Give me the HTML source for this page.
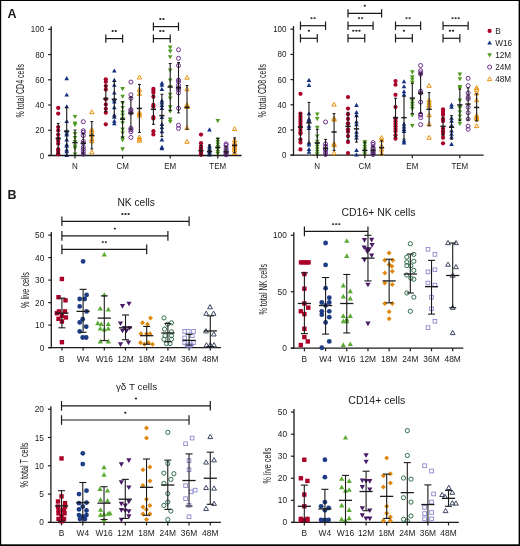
<!DOCTYPE html><html><head><meta charset="utf-8"><style>html,body{margin:0;padding:0;background:#fff;overflow:hidden;width:520px;height:546px;}svg{display:block;will-change:transform;}text{font-family:"Liberation Sans", sans-serif;fill:#1a1a1a;}</style></head><body>
<svg width="520" height="546" viewBox="0 0 520 546">
<rect x="0" y="0" width="520" height="546" fill="#fff"/>
<rect x="0" y="0" width="520" height="1" fill="#000"/>
<rect x="0" y="0" width="1.2" height="546" fill="#000"/>
<rect x="518.6" y="0" width="1.4" height="546" fill="#000"/>
<rect x="0" y="544.3" width="520" height="1.7" fill="#000"/>
<text x="7.5" y="18.2" font-size="12.5" font-weight="bold">A</text>
<text x="7.5" y="199" font-size="12.5" font-weight="bold">B</text>
<line x1="51.2" y1="156.1" x2="51.2" y2="26.3" stroke="#1a1a1a" stroke-width="1.3"/><line x1="48.2" y1="155.5" x2="51.2" y2="155.5" stroke="#1a1a1a" stroke-width="1.2"/><text x="44.2" y="158.5" font-size="8.96" text-anchor="end" textLength="4.45" lengthAdjust="spacingAndGlyphs">0</text><line x1="48.2" y1="130.26" x2="51.2" y2="130.26" stroke="#1a1a1a" stroke-width="1.2"/><text x="44.2" y="133.26" font-size="8.96" text-anchor="end" textLength="8.9" lengthAdjust="spacingAndGlyphs">20</text><line x1="48.2" y1="105.02" x2="51.2" y2="105.02" stroke="#1a1a1a" stroke-width="1.2"/><text x="44.2" y="108.02" font-size="8.96" text-anchor="end" textLength="8.9" lengthAdjust="spacingAndGlyphs">40</text><line x1="48.2" y1="79.78" x2="51.2" y2="79.78" stroke="#1a1a1a" stroke-width="1.2"/><text x="44.2" y="82.78" font-size="8.96" text-anchor="end" textLength="8.9" lengthAdjust="spacingAndGlyphs">60</text><line x1="48.2" y1="54.54" x2="51.2" y2="54.54" stroke="#1a1a1a" stroke-width="1.2"/><text x="44.2" y="57.54" font-size="8.96" text-anchor="end" textLength="8.9" lengthAdjust="spacingAndGlyphs">80</text><line x1="48.2" y1="29.3" x2="51.2" y2="29.3" stroke="#1a1a1a" stroke-width="1.2"/><text x="44.2" y="32.3" font-size="8.96" text-anchor="end" textLength="13.35" lengthAdjust="spacingAndGlyphs">100</text><line x1="48.2" y1="155.5" x2="241.6" y2="155.5" stroke="#1a1a1a" stroke-width="1.3"/><line x1="75" y1="155.5" x2="75" y2="158.5" stroke="#1a1a1a" stroke-width="1.2"/><text x="75" y="168.9" font-size="8.96" text-anchor="middle" textLength="5.78" lengthAdjust="spacingAndGlyphs">N</text><line x1="122.6" y1="155.5" x2="122.6" y2="158.5" stroke="#1a1a1a" stroke-width="1.2"/><text x="122.6" y="168.9" font-size="8.96" text-anchor="middle" textLength="12.44" lengthAdjust="spacingAndGlyphs">CM</text><line x1="170.2" y1="155.5" x2="170.2" y2="158.5" stroke="#1a1a1a" stroke-width="1.2"/><text x="170.2" y="168.9" font-size="8.96" text-anchor="middle" textLength="12" lengthAdjust="spacingAndGlyphs">EM</text><line x1="217.8" y1="155.5" x2="217.8" y2="158.5" stroke="#1a1a1a" stroke-width="1.2"/><text x="217.8" y="168.9" font-size="8.96" text-anchor="middle" textLength="16.89" lengthAdjust="spacingAndGlyphs">TEM</text><circle cx="58.2" cy="107.92" r="2.1" fill="#ab0029"/><circle cx="58.2" cy="113.6" r="2.1" fill="#ab0029"/><circle cx="58.2" cy="126.98" r="2.1" fill="#ab0029"/><circle cx="58.2" cy="130.39" r="2.1" fill="#ab0029"/><circle cx="58.2" cy="134.55" r="2.1" fill="#ab0029"/><circle cx="58.2" cy="138.46" r="2.1" fill="#ab0029"/><circle cx="58.2" cy="140.86" r="2.1" fill="#ab0029"/><circle cx="58.2" cy="143.64" r="2.1" fill="#ab0029"/><circle cx="58.2" cy="149.19" r="2.1" fill="#ab0029"/><circle cx="58.2" cy="150.96" r="2.1" fill="#ab0029"/><circle cx="58.2" cy="152.98" r="2.1" fill="#ab0029"/><circle cx="58.2" cy="154.36" r="2.1" fill="#ab0029"/><path d="M66.7 76.03L69 80.17L64.4 80.17Z" fill="#12307f"/><path d="M66.7 92.44L69 96.58L64.4 96.58Z" fill="#12307f"/><path d="M66.7 104.18L69 108.32L64.4 108.32Z" fill="#12307f"/><path d="M66.7 118.94L69 123.08L64.4 123.08Z" fill="#12307f"/><path d="M66.7 128.66L69 132.8L64.4 132.8Z" fill="#12307f"/><path d="M66.7 131.06L69 135.2L64.4 135.2Z" fill="#12307f"/><path d="M66.7 132.45L69 136.59L64.4 136.59Z" fill="#12307f"/><path d="M66.7 137.37L69 141.51L64.4 141.51Z" fill="#12307f"/><path d="M66.7 142.16L69 146.3L64.4 146.3Z" fill="#12307f"/><path d="M66.7 143.55L69 147.69L64.4 147.69Z" fill="#12307f"/><path d="M66.7 147.46L69 151.6L64.4 151.6Z" fill="#12307f"/><path d="M66.7 149.23L69 153.37L64.4 153.37Z" fill="#12307f"/><path d="M66.7 152.76L69 156.9L64.4 156.9Z" fill="#12307f"/><path d="M75 119.11L77.3 114.97L72.7 114.97Z" fill="#4f9a1e"/><path d="M75 125.55L77.3 121.41L72.7 121.41Z" fill="#4f9a1e"/><path d="M75 127.06L77.3 122.92L72.7 122.92Z" fill="#4f9a1e"/><path d="M75 136.03L77.3 131.89L72.7 131.89Z" fill="#4f9a1e"/><path d="M75 140.19L77.3 136.05L72.7 136.05Z" fill="#4f9a1e"/><path d="M75 144.1L77.3 139.96L72.7 139.96Z" fill="#4f9a1e"/><path d="M75 148.65L77.3 144.51L72.7 144.51Z" fill="#4f9a1e"/><path d="M75 150.66L77.3 146.52L72.7 146.52Z" fill="#4f9a1e"/><path d="M75 156.6L77.3 152.46L72.7 152.46Z" fill="#4f9a1e"/><circle cx="83.3" cy="121.68" r="2" fill="none" stroke="#6b2d8c" stroke-width="1"/><circle cx="83.3" cy="130.76" r="2" fill="none" stroke="#6b2d8c" stroke-width="1"/><circle cx="83.3" cy="132.28" r="2" fill="none" stroke="#6b2d8c" stroke-width="1"/><circle cx="83.3" cy="135.56" r="2" fill="none" stroke="#6b2d8c" stroke-width="1"/><circle cx="83.3" cy="141.37" r="2" fill="none" stroke="#6b2d8c" stroke-width="1"/><circle cx="83.3" cy="143.26" r="2" fill="none" stroke="#6b2d8c" stroke-width="1"/><circle cx="83.3" cy="147.3" r="2" fill="none" stroke="#6b2d8c" stroke-width="1"/><circle cx="83.3" cy="149.44" r="2" fill="none" stroke="#6b2d8c" stroke-width="1"/><circle cx="83.3" cy="151.71" r="2" fill="none" stroke="#6b2d8c" stroke-width="1"/><circle cx="83.3" cy="154.24" r="2" fill="none" stroke="#6b2d8c" stroke-width="1"/><path d="M91.8 109.77L94 113.63L89.6 113.63Z" fill="none" stroke="#e8920e" stroke-width="1" stroke-linejoin="miter"/><path d="M91.8 127.44L94 131.3L89.6 131.3Z" fill="none" stroke="#e8920e" stroke-width="1" stroke-linejoin="miter"/><path d="M91.8 129.71L94 133.57L89.6 133.57Z" fill="none" stroke="#e8920e" stroke-width="1" stroke-linejoin="miter"/><path d="M91.8 132.99L94 136.85L89.6 136.85Z" fill="none" stroke="#e8920e" stroke-width="1" stroke-linejoin="miter"/><path d="M91.8 136.78L94 140.64L89.6 140.64Z" fill="none" stroke="#e8920e" stroke-width="1" stroke-linejoin="miter"/><path d="M91.8 138.92L94 142.78L89.6 142.78Z" fill="none" stroke="#e8920e" stroke-width="1" stroke-linejoin="miter"/><path d="M91.8 149.9L94 153.76L89.6 153.76Z" fill="none" stroke="#e8920e" stroke-width="1" stroke-linejoin="miter"/><circle cx="105.8" cy="79.28" r="2.1" fill="#ab0029"/><circle cx="105.8" cy="81.8" r="2.1" fill="#ab0029"/><circle cx="105.8" cy="86.09" r="2.1" fill="#ab0029"/><circle cx="105.8" cy="89.62" r="2.1" fill="#ab0029"/><circle cx="105.8" cy="99.21" r="2.1" fill="#ab0029"/><circle cx="105.8" cy="104.39" r="2.1" fill="#ab0029"/><circle cx="105.8" cy="108.81" r="2.1" fill="#ab0029"/><circle cx="105.8" cy="112.72" r="2.1" fill="#ab0029"/><circle cx="105.8" cy="124.33" r="2.1" fill="#ab0029"/><path d="M114.3 68.46L116.6 72.6L112 72.6Z" fill="#12307f"/><path d="M114.3 77.8L116.6 81.94L112 81.94Z" fill="#12307f"/><path d="M114.3 82.72L116.6 86.86L112 86.86Z" fill="#12307f"/><path d="M114.3 90.42L116.6 94.56L112 94.56Z" fill="#12307f"/><path d="M114.3 97.36L116.6 101.5L112 101.5Z" fill="#12307f"/><path d="M114.3 99.38L116.6 103.52L112 103.52Z" fill="#12307f"/><path d="M114.3 105.06L116.6 109.2L112 109.2Z" fill="#12307f"/><path d="M114.3 112.63L116.6 116.77L112 116.77Z" fill="#12307f"/><path d="M114.3 114.65L116.6 118.79L112 118.79Z" fill="#12307f"/><path d="M114.3 118.69L116.6 122.83L112 122.83Z" fill="#12307f"/><path d="M114.3 121.21L116.6 125.35L112 125.35Z" fill="#12307f"/><path d="M122.6 91.22L124.9 87.08L120.3 87.08Z" fill="#4f9a1e"/><path d="M122.6 98.8L124.9 94.66L120.3 94.66Z" fill="#4f9a1e"/><path d="M122.6 105.61L124.9 101.47L120.3 101.47Z" fill="#4f9a1e"/><path d="M122.6 110.03L124.9 105.89L120.3 105.89Z" fill="#4f9a1e"/><path d="M122.6 114.57L124.9 110.43L120.3 110.43Z" fill="#4f9a1e"/><path d="M122.6 117.6L124.9 113.46L120.3 113.46Z" fill="#4f9a1e"/><path d="M122.6 121.13L124.9 116.99L120.3 116.99Z" fill="#4f9a1e"/><path d="M122.6 125.17L124.9 121.03L120.3 121.03Z" fill="#4f9a1e"/><path d="M122.6 131.73L124.9 127.59L120.3 127.59Z" fill="#4f9a1e"/><path d="M122.6 135.27L124.9 131.13L120.3 131.13Z" fill="#4f9a1e"/><path d="M122.6 140.32L124.9 136.18L120.3 136.18Z" fill="#4f9a1e"/><path d="M122.6 142.34L124.9 138.2L120.3 138.2Z" fill="#4f9a1e"/><path d="M122.6 151.42L124.9 147.28L120.3 147.28Z" fill="#4f9a1e"/><circle cx="130.9" cy="82.05" r="2" fill="none" stroke="#6b2d8c" stroke-width="1"/><circle cx="130.9" cy="94.8" r="2" fill="none" stroke="#6b2d8c" stroke-width="1"/><circle cx="130.9" cy="98.33" r="2" fill="none" stroke="#6b2d8c" stroke-width="1"/><circle cx="130.9" cy="109.56" r="2" fill="none" stroke="#6b2d8c" stroke-width="1"/><circle cx="130.9" cy="111.08" r="2" fill="none" stroke="#6b2d8c" stroke-width="1"/><circle cx="130.9" cy="113.1" r="2" fill="none" stroke="#6b2d8c" stroke-width="1"/><circle cx="130.9" cy="128.24" r="2" fill="none" stroke="#6b2d8c" stroke-width="1"/><circle cx="130.9" cy="129.76" r="2" fill="none" stroke="#6b2d8c" stroke-width="1"/><circle cx="130.9" cy="131.77" r="2" fill="none" stroke="#6b2d8c" stroke-width="1"/><circle cx="130.9" cy="137.45" r="2" fill="none" stroke="#6b2d8c" stroke-width="1"/><path d="M139.4 75.07L141.6 78.93L137.2 78.93Z" fill="none" stroke="#e8920e" stroke-width="1" stroke-linejoin="miter"/><path d="M139.4 87.43L141.6 91.29L137.2 91.29Z" fill="none" stroke="#e8920e" stroke-width="1" stroke-linejoin="miter"/><path d="M139.4 91.47L141.6 95.33L137.2 95.33Z" fill="none" stroke="#e8920e" stroke-width="1" stroke-linejoin="miter"/><path d="M139.4 110.28L141.6 114.14L137.2 114.14Z" fill="none" stroke="#e8920e" stroke-width="1" stroke-linejoin="miter"/><path d="M139.4 111.79L141.6 115.65L137.2 115.65Z" fill="none" stroke="#e8920e" stroke-width="1" stroke-linejoin="miter"/><path d="M139.4 113.3L141.6 117.16L137.2 117.16Z" fill="none" stroke="#e8920e" stroke-width="1" stroke-linejoin="miter"/><path d="M139.4 135.01L141.6 138.87L137.2 138.87Z" fill="none" stroke="#e8920e" stroke-width="1" stroke-linejoin="miter"/><path d="M139.4 137.03L141.6 140.89L137.2 140.89Z" fill="none" stroke="#e8920e" stroke-width="1" stroke-linejoin="miter"/><path d="M139.4 138.42L141.6 142.28L137.2 142.28Z" fill="none" stroke="#e8920e" stroke-width="1" stroke-linejoin="miter"/><circle cx="153.4" cy="88.74" r="2.1" fill="#ab0029"/><circle cx="153.4" cy="90.76" r="2.1" fill="#ab0029"/><circle cx="153.4" cy="92.78" r="2.1" fill="#ab0029"/><circle cx="153.4" cy="96.82" r="2.1" fill="#ab0029"/><circle cx="153.4" cy="104.89" r="2.1" fill="#ab0029"/><circle cx="153.4" cy="106.41" r="2.1" fill="#ab0029"/><circle cx="153.4" cy="117.01" r="2.1" fill="#ab0029"/><circle cx="153.4" cy="118.52" r="2.1" fill="#ab0029"/><circle cx="153.4" cy="131.14" r="2.1" fill="#ab0029"/><circle cx="153.4" cy="134.42" r="2.1" fill="#ab0029"/><path d="M161.9 80.7L164.2 84.84L159.6 84.84Z" fill="#12307f"/><path d="M161.9 82.72L164.2 86.86L159.6 86.86Z" fill="#12307f"/><path d="M161.9 86.76L164.2 90.9L159.6 90.9Z" fill="#12307f"/><path d="M161.9 98.25L164.2 102.39L159.6 102.39Z" fill="#12307f"/><path d="M161.9 100.39L164.2 104.53L159.6 104.53Z" fill="#12307f"/><path d="M161.9 102.91L164.2 107.05L159.6 107.05Z" fill="#12307f"/><path d="M161.9 105.82L164.2 109.96L159.6 109.96Z" fill="#12307f"/><path d="M161.9 114.9L164.2 119.04L159.6 119.04Z" fill="#12307f"/><path d="M161.9 121.84L164.2 125.98L159.6 125.98Z" fill="#12307f"/><path d="M161.9 125L164.2 129.14L159.6 129.14Z" fill="#12307f"/><path d="M161.9 129.16L164.2 133.3L159.6 133.3Z" fill="#12307f"/><path d="M161.9 137.37L164.2 141.51L159.6 141.51Z" fill="#12307f"/><path d="M161.9 144.81L164.2 148.95L159.6 148.95Z" fill="#12307f"/><path d="M161.9 146.07L164.2 150.22L159.6 150.22Z" fill="#12307f"/><path d="M170.2 49.7L172.5 45.56L167.9 45.56Z" fill="#4f9a1e"/><path d="M170.2 53.74L172.5 49.6L167.9 49.6Z" fill="#4f9a1e"/><path d="M170.2 59.3L172.5 55.16L167.9 55.16Z" fill="#4f9a1e"/><path d="M170.2 72.55L172.5 68.41L167.9 68.41Z" fill="#4f9a1e"/><path d="M170.2 82.64L172.5 78.5L167.9 78.5Z" fill="#4f9a1e"/><path d="M170.2 89.2L172.5 85.06L167.9 85.06Z" fill="#4f9a1e"/><path d="M170.2 96.78L172.5 92.64L167.9 92.64Z" fill="#4f9a1e"/><path d="M170.2 100.69L172.5 96.55L167.9 96.55Z" fill="#4f9a1e"/><path d="M170.2 109.4L172.5 105.26L167.9 105.26Z" fill="#4f9a1e"/><path d="M170.2 113.81L172.5 109.67L167.9 109.67Z" fill="#4f9a1e"/><path d="M170.2 121.76L172.5 117.62L167.9 117.62Z" fill="#4f9a1e"/><path d="M170.2 124.04L172.5 119.9L167.9 119.9Z" fill="#4f9a1e"/><circle cx="178.5" cy="49.74" r="2" fill="none" stroke="#6b2d8c" stroke-width="1"/><circle cx="178.5" cy="58.33" r="2" fill="none" stroke="#6b2d8c" stroke-width="1"/><circle cx="178.5" cy="65.52" r="2" fill="none" stroke="#6b2d8c" stroke-width="1"/><circle cx="178.5" cy="80.16" r="2" fill="none" stroke="#6b2d8c" stroke-width="1"/><circle cx="178.5" cy="81.67" r="2" fill="none" stroke="#6b2d8c" stroke-width="1"/><circle cx="178.5" cy="85.21" r="2" fill="none" stroke="#6b2d8c" stroke-width="1"/><circle cx="178.5" cy="87.73" r="2" fill="none" stroke="#6b2d8c" stroke-width="1"/><circle cx="178.5" cy="89.75" r="2" fill="none" stroke="#6b2d8c" stroke-width="1"/><circle cx="178.5" cy="92.78" r="2" fill="none" stroke="#6b2d8c" stroke-width="1"/><circle cx="178.5" cy="108.3" r="2" fill="none" stroke="#6b2d8c" stroke-width="1"/><circle cx="178.5" cy="125.21" r="2" fill="none" stroke="#6b2d8c" stroke-width="1"/><circle cx="178.5" cy="128.37" r="2" fill="none" stroke="#6b2d8c" stroke-width="1"/><path d="M187 75.32L189.2 79.18L184.8 79.18Z" fill="none" stroke="#e8920e" stroke-width="1" stroke-linejoin="miter"/><path d="M187 86.93L189.2 90.79L184.8 90.79Z" fill="none" stroke="#e8920e" stroke-width="1" stroke-linejoin="miter"/><path d="M187 102.58L189.2 106.44L184.8 106.44Z" fill="none" stroke="#e8920e" stroke-width="1" stroke-linejoin="miter"/><path d="M187 104.6L189.2 108.46L184.8 108.46Z" fill="none" stroke="#e8920e" stroke-width="1" stroke-linejoin="miter"/><path d="M187 125.67L189.2 129.53L184.8 129.53Z" fill="none" stroke="#e8920e" stroke-width="1" stroke-linejoin="miter"/><path d="M187 139.43L189.2 143.29L184.8 143.29Z" fill="none" stroke="#e8920e" stroke-width="1" stroke-linejoin="miter"/><circle cx="201" cy="134.55" r="2.1" fill="#ab0029"/><circle cx="201" cy="143.13" r="2.1" fill="#ab0029"/><circle cx="201" cy="146.67" r="2.1" fill="#ab0029"/><circle cx="201" cy="148.56" r="2.1" fill="#ab0029"/><circle cx="201" cy="150.45" r="2.1" fill="#ab0029"/><circle cx="201" cy="151.71" r="2.1" fill="#ab0029"/><circle cx="201" cy="152.98" r="2.1" fill="#ab0029"/><circle cx="201" cy="154.24" r="2.1" fill="#ab0029"/><circle cx="201" cy="154.87" r="2.1" fill="#ab0029"/><path d="M209.5 127.27L211.8 131.41L207.2 131.41Z" fill="#12307f"/><path d="M209.5 143.55L211.8 147.69L207.2 147.69Z" fill="#12307f"/><path d="M209.5 145.44L211.8 149.58L207.2 149.58Z" fill="#12307f"/><path d="M209.5 147.34L211.8 151.48L207.2 151.48Z" fill="#12307f"/><path d="M209.5 149.23L211.8 153.37L207.2 153.37Z" fill="#12307f"/><path d="M209.5 150.49L211.8 154.63L207.2 154.63Z" fill="#12307f"/><path d="M209.5 151.75L211.8 155.89L207.2 155.89Z" fill="#12307f"/><path d="M209.5 152.38L211.8 156.53L207.2 156.53Z" fill="#12307f"/><path d="M217.8 123.15L220.1 119.01L215.5 119.01Z" fill="#4f9a1e"/><path d="M217.8 141.58L220.1 137.44L215.5 137.44Z" fill="#4f9a1e"/><path d="M217.8 144.1L220.1 139.96L215.5 139.96Z" fill="#4f9a1e"/><path d="M217.8 146.63L220.1 142.49L215.5 142.49Z" fill="#4f9a1e"/><path d="M217.8 149.15L220.1 145.01L215.5 145.01Z" fill="#4f9a1e"/><path d="M217.8 151.67L220.1 147.53L215.5 147.53Z" fill="#4f9a1e"/><path d="M217.8 154.2L220.1 150.06L215.5 150.06Z" fill="#4f9a1e"/><path d="M217.8 156.09L220.1 151.95L215.5 151.95Z" fill="#4f9a1e"/><circle cx="226.1" cy="143.89" r="2" fill="none" stroke="#6b2d8c" stroke-width="1"/><circle cx="226.1" cy="145.4" r="2" fill="none" stroke="#6b2d8c" stroke-width="1"/><circle cx="226.1" cy="147.93" r="2" fill="none" stroke="#6b2d8c" stroke-width="1"/><circle cx="226.1" cy="149.82" r="2" fill="none" stroke="#6b2d8c" stroke-width="1"/><circle cx="226.1" cy="151.71" r="2" fill="none" stroke="#6b2d8c" stroke-width="1"/><circle cx="226.1" cy="152.98" r="2" fill="none" stroke="#6b2d8c" stroke-width="1"/><circle cx="226.1" cy="154.24" r="2" fill="none" stroke="#6b2d8c" stroke-width="1"/><circle cx="226.1" cy="154.87" r="2" fill="none" stroke="#6b2d8c" stroke-width="1"/><path d="M234.6 126.68L236.8 130.54L232.4 130.54Z" fill="none" stroke="#e8920e" stroke-width="1" stroke-linejoin="miter"/><path d="M234.6 138.04L236.8 141.9L232.4 141.9Z" fill="none" stroke="#e8920e" stroke-width="1" stroke-linejoin="miter"/><path d="M234.6 140.56L236.8 144.42L232.4 144.42Z" fill="none" stroke="#e8920e" stroke-width="1" stroke-linejoin="miter"/><path d="M234.6 142.46L236.8 146.32L232.4 146.32Z" fill="none" stroke="#e8920e" stroke-width="1" stroke-linejoin="miter"/><path d="M234.6 144.35L236.8 148.21L232.4 148.21Z" fill="none" stroke="#e8920e" stroke-width="1" stroke-linejoin="miter"/><path d="M234.6 146.24L236.8 150.1L232.4 150.1Z" fill="none" stroke="#e8920e" stroke-width="1" stroke-linejoin="miter"/><path d="M234.6 148.14L236.8 152L232.4 152Z" fill="none" stroke="#e8920e" stroke-width="1" stroke-linejoin="miter"/><path d="M234.6 150.66L236.8 154.52L232.4 154.52Z" fill="none" stroke="#e8920e" stroke-width="1" stroke-linejoin="miter"/><line x1="58.2" y1="123.45" x2="58.2" y2="153.61" stroke="#1a1a1a" stroke-width="1.1"/><line x1="56.8" y1="123.45" x2="59.6" y2="123.45" stroke="#1a1a1a" stroke-width="1.1"/><line x1="56.8" y1="153.61" x2="59.6" y2="153.61" stroke="#1a1a1a" stroke-width="1.1"/><line x1="55.6" y1="138.46" x2="60.8" y2="138.46" stroke="#1a1a1a" stroke-width="1.5"/><line x1="66.7" y1="107.54" x2="66.7" y2="155.5" stroke="#1a1a1a" stroke-width="1.1"/><line x1="65.3" y1="107.54" x2="68.1" y2="107.54" stroke="#1a1a1a" stroke-width="1.1"/><line x1="65.3" y1="155.5" x2="68.1" y2="155.5" stroke="#1a1a1a" stroke-width="1.1"/><line x1="64.1" y1="131.14" x2="69.3" y2="131.14" stroke="#1a1a1a" stroke-width="1.5"/><line x1="75" y1="130.13" x2="75" y2="155.5" stroke="#1a1a1a" stroke-width="1.1"/><line x1="73.6" y1="130.13" x2="76.4" y2="130.13" stroke="#1a1a1a" stroke-width="1.1"/><line x1="73.6" y1="155.5" x2="76.4" y2="155.5" stroke="#1a1a1a" stroke-width="1.1"/><line x1="72.4" y1="142.63" x2="77.6" y2="142.63" stroke="#1a1a1a" stroke-width="1.5"/><line x1="83.3" y1="133.41" x2="83.3" y2="154.24" stroke="#1a1a1a" stroke-width="1.1"/><line x1="81.9" y1="133.41" x2="84.7" y2="133.41" stroke="#1a1a1a" stroke-width="1.1"/><line x1="81.9" y1="154.24" x2="84.7" y2="154.24" stroke="#1a1a1a" stroke-width="1.1"/><line x1="80.7" y1="143.26" x2="85.9" y2="143.26" stroke="#1a1a1a" stroke-width="1.5"/><line x1="91.8" y1="121.55" x2="91.8" y2="148.94" stroke="#1a1a1a" stroke-width="1.1"/><line x1="90.4" y1="121.55" x2="93.2" y2="121.55" stroke="#1a1a1a" stroke-width="1.1"/><line x1="90.4" y1="148.94" x2="93.2" y2="148.94" stroke="#1a1a1a" stroke-width="1.1"/><line x1="89.2" y1="135.43" x2="94.4" y2="135.43" stroke="#1a1a1a" stroke-width="1.5"/><line x1="105.8" y1="85.21" x2="105.8" y2="111.58" stroke="#1a1a1a" stroke-width="1.1"/><line x1="104.4" y1="85.21" x2="107.2" y2="85.21" stroke="#1a1a1a" stroke-width="1.1"/><line x1="104.4" y1="111.58" x2="107.2" y2="111.58" stroke="#1a1a1a" stroke-width="1.1"/><line x1="103.2" y1="98.58" x2="108.4" y2="98.58" stroke="#1a1a1a" stroke-width="1.5"/><line x1="114.3" y1="81.42" x2="114.3" y2="117.26" stroke="#1a1a1a" stroke-width="1.1"/><line x1="112.9" y1="81.42" x2="115.7" y2="81.42" stroke="#1a1a1a" stroke-width="1.1"/><line x1="112.9" y1="117.26" x2="115.7" y2="117.26" stroke="#1a1a1a" stroke-width="1.1"/><line x1="111.7" y1="99.34" x2="116.9" y2="99.34" stroke="#1a1a1a" stroke-width="1.5"/><line x1="122.6" y1="101.61" x2="122.6" y2="137.33" stroke="#1a1a1a" stroke-width="1.1"/><line x1="121.2" y1="101.61" x2="124" y2="101.61" stroke="#1a1a1a" stroke-width="1.1"/><line x1="121.2" y1="137.33" x2="124" y2="137.33" stroke="#1a1a1a" stroke-width="1.1"/><line x1="120" y1="119.15" x2="125.2" y2="119.15" stroke="#1a1a1a" stroke-width="1.5"/><line x1="130.9" y1="97.32" x2="130.9" y2="129.12" stroke="#1a1a1a" stroke-width="1.1"/><line x1="129.5" y1="97.32" x2="132.3" y2="97.32" stroke="#1a1a1a" stroke-width="1.1"/><line x1="129.5" y1="129.12" x2="132.3" y2="129.12" stroke="#1a1a1a" stroke-width="1.1"/><line x1="128.3" y1="113.22" x2="133.5" y2="113.22" stroke="#1a1a1a" stroke-width="1.5"/><line x1="139.4" y1="84.45" x2="139.4" y2="132.41" stroke="#1a1a1a" stroke-width="1.1"/><line x1="138" y1="84.45" x2="140.8" y2="84.45" stroke="#1a1a1a" stroke-width="1.1"/><line x1="138" y1="132.41" x2="140.8" y2="132.41" stroke="#1a1a1a" stroke-width="1.1"/><line x1="136.8" y1="108.43" x2="142" y2="108.43" stroke="#1a1a1a" stroke-width="1.5"/><line x1="153.4" y1="95.3" x2="153.4" y2="124.33" stroke="#1a1a1a" stroke-width="1.1"/><line x1="152" y1="95.3" x2="154.8" y2="95.3" stroke="#1a1a1a" stroke-width="1.1"/><line x1="152" y1="124.33" x2="154.8" y2="124.33" stroke="#1a1a1a" stroke-width="1.1"/><line x1="150.8" y1="109.31" x2="156" y2="109.31" stroke="#1a1a1a" stroke-width="1.5"/><line x1="161.9" y1="94.29" x2="161.9" y2="136.44" stroke="#1a1a1a" stroke-width="1.1"/><line x1="160.5" y1="94.29" x2="163.3" y2="94.29" stroke="#1a1a1a" stroke-width="1.1"/><line x1="160.5" y1="136.44" x2="163.3" y2="136.44" stroke="#1a1a1a" stroke-width="1.1"/><line x1="159.3" y1="115.62" x2="164.5" y2="115.62" stroke="#1a1a1a" stroke-width="1.5"/><line x1="170.2" y1="63.5" x2="170.2" y2="110.45" stroke="#1a1a1a" stroke-width="1.1"/><line x1="168.8" y1="63.5" x2="171.6" y2="63.5" stroke="#1a1a1a" stroke-width="1.1"/><line x1="168.8" y1="110.45" x2="171.6" y2="110.45" stroke="#1a1a1a" stroke-width="1.1"/><line x1="167.6" y1="86.97" x2="172.8" y2="86.97" stroke="#1a1a1a" stroke-width="1.5"/><line x1="178.5" y1="62.49" x2="178.5" y2="112.84" stroke="#1a1a1a" stroke-width="1.1"/><line x1="177.1" y1="62.49" x2="179.9" y2="62.49" stroke="#1a1a1a" stroke-width="1.1"/><line x1="177.1" y1="112.84" x2="179.9" y2="112.84" stroke="#1a1a1a" stroke-width="1.1"/><line x1="175.9" y1="87.73" x2="181.1" y2="87.73" stroke="#1a1a1a" stroke-width="1.5"/><line x1="187" y1="85.59" x2="187" y2="129.25" stroke="#1a1a1a" stroke-width="1.1"/><line x1="185.6" y1="85.59" x2="188.4" y2="85.59" stroke="#1a1a1a" stroke-width="1.1"/><line x1="185.6" y1="129.25" x2="188.4" y2="129.25" stroke="#1a1a1a" stroke-width="1.1"/><line x1="184.4" y1="107.42" x2="189.6" y2="107.42" stroke="#1a1a1a" stroke-width="1.5"/><line x1="201" y1="145.4" x2="201" y2="155.5" stroke="#1a1a1a" stroke-width="1.1"/><line x1="199.6" y1="145.4" x2="202.4" y2="145.4" stroke="#1a1a1a" stroke-width="1.1"/><line x1="199.6" y1="155.5" x2="202.4" y2="155.5" stroke="#1a1a1a" stroke-width="1.1"/><line x1="198.4" y1="150.58" x2="203.6" y2="150.58" stroke="#1a1a1a" stroke-width="1.5"/><line x1="209.5" y1="144.9" x2="209.5" y2="155.5" stroke="#1a1a1a" stroke-width="1.1"/><line x1="208.1" y1="144.9" x2="210.9" y2="144.9" stroke="#1a1a1a" stroke-width="1.1"/><line x1="208.1" y1="155.5" x2="210.9" y2="155.5" stroke="#1a1a1a" stroke-width="1.1"/><line x1="206.9" y1="151.59" x2="212.1" y2="151.59" stroke="#1a1a1a" stroke-width="1.5"/><line x1="217.8" y1="138.34" x2="217.8" y2="155.5" stroke="#1a1a1a" stroke-width="1.1"/><line x1="216.4" y1="138.34" x2="219.2" y2="138.34" stroke="#1a1a1a" stroke-width="1.1"/><line x1="216.4" y1="155.5" x2="219.2" y2="155.5" stroke="#1a1a1a" stroke-width="1.1"/><line x1="215.2" y1="147.42" x2="220.4" y2="147.42" stroke="#1a1a1a" stroke-width="1.5"/><line x1="226.1" y1="146.67" x2="226.1" y2="155.5" stroke="#1a1a1a" stroke-width="1.1"/><line x1="224.7" y1="146.67" x2="227.5" y2="146.67" stroke="#1a1a1a" stroke-width="1.1"/><line x1="224.7" y1="155.5" x2="227.5" y2="155.5" stroke="#1a1a1a" stroke-width="1.1"/><line x1="223.5" y1="151.84" x2="228.7" y2="151.84" stroke="#1a1a1a" stroke-width="1.5"/><line x1="234.6" y1="137.83" x2="234.6" y2="152.98" stroke="#1a1a1a" stroke-width="1.1"/><line x1="233.2" y1="137.83" x2="236" y2="137.83" stroke="#1a1a1a" stroke-width="1.1"/><line x1="233.2" y1="152.98" x2="236" y2="152.98" stroke="#1a1a1a" stroke-width="1.1"/><line x1="232" y1="145.4" x2="237.2" y2="145.4" stroke="#1a1a1a" stroke-width="1.5"/><text transform="translate(23.6 90.7) rotate(-90)" font-size="10" text-anchor="middle" textLength="53.5" lengthAdjust="spacingAndGlyphs">% total CD4 cells</text><line x1="105.8" y1="38.6" x2="122.6" y2="38.6" stroke="#1a1a1a" stroke-width="1.2"/><line x1="105.8" y1="34.4" x2="105.8" y2="42.8" stroke="#1a1a1a" stroke-width="1.2"/><line x1="122.6" y1="34.4" x2="122.6" y2="42.8" stroke="#1a1a1a" stroke-width="1.2"/><ellipse cx="112.65" cy="31" rx="1.15" ry="0.95" fill="#222"/><ellipse cx="115.75" cy="31" rx="1.15" ry="0.95" fill="#222"/><line x1="153.4" y1="38.6" x2="170.2" y2="38.6" stroke="#1a1a1a" stroke-width="1.2"/><line x1="153.4" y1="34.4" x2="153.4" y2="42.8" stroke="#1a1a1a" stroke-width="1.2"/><line x1="170.2" y1="34.4" x2="170.2" y2="42.8" stroke="#1a1a1a" stroke-width="1.2"/><ellipse cx="160.25" cy="31" rx="1.15" ry="0.95" fill="#222"/><ellipse cx="163.35" cy="31" rx="1.15" ry="0.95" fill="#222"/><line x1="153.4" y1="26.6" x2="178.5" y2="26.6" stroke="#1a1a1a" stroke-width="1.2"/><line x1="153.4" y1="22.4" x2="153.4" y2="30.8" stroke="#1a1a1a" stroke-width="1.2"/><line x1="178.5" y1="22.4" x2="178.5" y2="30.8" stroke="#1a1a1a" stroke-width="1.2"/><ellipse cx="160.35" cy="19" rx="1.15" ry="0.95" fill="#222"/><ellipse cx="163.45" cy="19" rx="1.15" ry="0.95" fill="#222"/>
<line x1="293.5" y1="155.8" x2="293.5" y2="26.2" stroke="#1a1a1a" stroke-width="1.3"/><line x1="290.5" y1="155.2" x2="293.5" y2="155.2" stroke="#1a1a1a" stroke-width="1.2"/><text x="286.5" y="158.2" font-size="8.96" text-anchor="end" textLength="4.45" lengthAdjust="spacingAndGlyphs">0</text><line x1="290.5" y1="130" x2="293.5" y2="130" stroke="#1a1a1a" stroke-width="1.2"/><text x="286.5" y="133" font-size="8.96" text-anchor="end" textLength="8.9" lengthAdjust="spacingAndGlyphs">20</text><line x1="290.5" y1="104.8" x2="293.5" y2="104.8" stroke="#1a1a1a" stroke-width="1.2"/><text x="286.5" y="107.8" font-size="8.96" text-anchor="end" textLength="8.9" lengthAdjust="spacingAndGlyphs">40</text><line x1="290.5" y1="79.6" x2="293.5" y2="79.6" stroke="#1a1a1a" stroke-width="1.2"/><text x="286.5" y="82.6" font-size="8.96" text-anchor="end" textLength="8.9" lengthAdjust="spacingAndGlyphs">60</text><line x1="290.5" y1="54.4" x2="293.5" y2="54.4" stroke="#1a1a1a" stroke-width="1.2"/><text x="286.5" y="57.4" font-size="8.96" text-anchor="end" textLength="8.9" lengthAdjust="spacingAndGlyphs">80</text><line x1="290.5" y1="29.2" x2="293.5" y2="29.2" stroke="#1a1a1a" stroke-width="1.2"/><text x="286.5" y="32.2" font-size="8.96" text-anchor="end" textLength="13.35" lengthAdjust="spacingAndGlyphs">100</text><line x1="290.5" y1="155.2" x2="483.6" y2="155.2" stroke="#1a1a1a" stroke-width="1.3"/><line x1="317.26" y1="155.2" x2="317.26" y2="158.2" stroke="#1a1a1a" stroke-width="1.2"/><text x="317.26" y="168.9" font-size="8.96" text-anchor="middle" textLength="5.78" lengthAdjust="spacingAndGlyphs">N</text><line x1="364.79" y1="155.2" x2="364.79" y2="158.2" stroke="#1a1a1a" stroke-width="1.2"/><text x="364.79" y="168.9" font-size="8.96" text-anchor="middle" textLength="12.44" lengthAdjust="spacingAndGlyphs">CM</text><line x1="412.31" y1="155.2" x2="412.31" y2="158.2" stroke="#1a1a1a" stroke-width="1.2"/><text x="412.31" y="168.9" font-size="8.96" text-anchor="middle" textLength="12" lengthAdjust="spacingAndGlyphs">EM</text><line x1="459.84" y1="155.2" x2="459.84" y2="158.2" stroke="#1a1a1a" stroke-width="1.2"/><text x="459.84" y="168.9" font-size="8.96" text-anchor="middle" textLength="16.89" lengthAdjust="spacingAndGlyphs">TEM</text><circle cx="300.46" cy="93.84" r="2.1" fill="#ab0029"/><circle cx="300.46" cy="113.62" r="2.1" fill="#ab0029"/><circle cx="300.46" cy="116.14" r="2.1" fill="#ab0029"/><circle cx="300.46" cy="118.66" r="2.1" fill="#ab0029"/><circle cx="300.46" cy="121.18" r="2.1" fill="#ab0029"/><circle cx="300.46" cy="123.7" r="2.1" fill="#ab0029"/><circle cx="300.46" cy="126.22" r="2.1" fill="#ab0029"/><circle cx="300.46" cy="127.48" r="2.1" fill="#ab0029"/><circle cx="300.46" cy="130" r="2.1" fill="#ab0029"/><circle cx="300.46" cy="132.52" r="2.1" fill="#ab0029"/><circle cx="300.46" cy="133.78" r="2.1" fill="#ab0029"/><circle cx="300.46" cy="139.45" r="2.1" fill="#ab0029"/><circle cx="300.46" cy="142.6" r="2.1" fill="#ab0029"/><circle cx="300.46" cy="149.4" r="2.1" fill="#ab0029"/><path d="M308.96 77.75L311.26 81.89L306.66 81.89Z" fill="#12307f"/><path d="M308.96 82.91L311.26 87.05L306.66 87.05Z" fill="#12307f"/><path d="M308.96 111.14L311.26 115.28L306.66 115.28Z" fill="#12307f"/><path d="M308.96 116.68L311.26 120.82L306.66 120.82Z" fill="#12307f"/><path d="M308.96 118.07L311.26 122.21L306.66 122.21Z" fill="#12307f"/><path d="M308.96 123.61L311.26 127.75L306.66 127.75Z" fill="#12307f"/><path d="M308.96 125.88L311.26 130.02L306.66 130.02Z" fill="#12307f"/><path d="M308.96 140.49L311.26 144.63L306.66 144.63Z" fill="#12307f"/><path d="M308.96 142.38L311.26 146.52L306.66 146.52Z" fill="#12307f"/><path d="M308.96 146.92L311.26 151.06L306.66 151.06Z" fill="#12307f"/><path d="M308.96 149.69L311.26 153.83L306.66 153.83Z" fill="#12307f"/><path d="M317.26 116.61L319.56 112.47L314.96 112.47Z" fill="#4f9a1e"/><path d="M317.26 121.14L319.56 117L314.96 117Z" fill="#4f9a1e"/><path d="M317.26 129.96L319.56 125.82L314.96 125.82Z" fill="#4f9a1e"/><path d="M317.26 138.53L319.56 134.39L314.96 134.39Z" fill="#4f9a1e"/><path d="M317.26 143.82L319.56 139.68L314.96 139.68Z" fill="#4f9a1e"/><path d="M317.26 146.34L319.56 142.2L314.96 142.2Z" fill="#4f9a1e"/><path d="M317.26 148.86L319.56 144.72L314.96 144.72Z" fill="#4f9a1e"/><path d="M317.26 151.38L319.56 147.24L314.96 147.24Z" fill="#4f9a1e"/><path d="M317.26 153.9L319.56 149.76L314.96 149.76Z" fill="#4f9a1e"/><path d="M317.26 156.42L319.56 152.28L314.96 152.28Z" fill="#4f9a1e"/><circle cx="325.56" cy="121.94" r="2" fill="none" stroke="#6b2d8c" stroke-width="1"/><circle cx="325.56" cy="143.86" r="2" fill="none" stroke="#6b2d8c" stroke-width="1"/><circle cx="325.56" cy="146.38" r="2" fill="none" stroke="#6b2d8c" stroke-width="1"/><circle cx="325.56" cy="148.9" r="2" fill="none" stroke="#6b2d8c" stroke-width="1"/><circle cx="325.56" cy="150.16" r="2" fill="none" stroke="#6b2d8c" stroke-width="1"/><circle cx="325.56" cy="152.68" r="2" fill="none" stroke="#6b2d8c" stroke-width="1"/><circle cx="325.56" cy="154.57" r="2" fill="none" stroke="#6b2d8c" stroke-width="1"/><path d="M334.06 102.23L336.26 106.09L331.86 106.09Z" fill="none" stroke="#e8920e" stroke-width="1" stroke-linejoin="miter"/><path d="M334.06 116.34L336.26 120.2L331.86 120.2Z" fill="none" stroke="#e8920e" stroke-width="1" stroke-linejoin="miter"/><path d="M334.06 117.23L336.26 121.09L331.86 121.09Z" fill="none" stroke="#e8920e" stroke-width="1" stroke-linejoin="miter"/><path d="M334.06 141.54L336.26 145.4L331.86 145.4Z" fill="none" stroke="#e8920e" stroke-width="1" stroke-linejoin="miter"/><path d="M334.06 142.93L336.26 146.79L331.86 146.79Z" fill="none" stroke="#e8920e" stroke-width="1" stroke-linejoin="miter"/><path d="M334.06 150.74L336.26 154.6L331.86 154.6Z" fill="none" stroke="#e8920e" stroke-width="1" stroke-linejoin="miter"/><circle cx="347.99" cy="97.11" r="2.1" fill="#ab0029"/><circle cx="347.99" cy="108.58" r="2.1" fill="#ab0029"/><circle cx="347.99" cy="114.25" r="2.1" fill="#ab0029"/><circle cx="347.99" cy="118.91" r="2.1" fill="#ab0029"/><circle cx="347.99" cy="123.32" r="2.1" fill="#ab0029"/><circle cx="347.99" cy="123.83" r="2.1" fill="#ab0029"/><circle cx="347.99" cy="129.37" r="2.1" fill="#ab0029"/><circle cx="347.99" cy="131.64" r="2.1" fill="#ab0029"/><circle cx="347.99" cy="136.05" r="2.1" fill="#ab0029"/><circle cx="347.99" cy="142.1" r="2.1" fill="#ab0029"/><circle cx="347.99" cy="153.06" r="2.1" fill="#ab0029"/><path d="M356.49 102.82L358.79 106.96L354.19 106.96Z" fill="#12307f"/><path d="M356.49 109.88L358.79 114.02L354.19 114.02Z" fill="#12307f"/><path d="M356.49 113.03L358.79 117.17L354.19 117.17Z" fill="#12307f"/><path d="M356.49 119.45L358.79 123.59L354.19 123.59Z" fill="#12307f"/><path d="M356.49 122.22L358.79 126.36L354.19 126.36Z" fill="#12307f"/><path d="M356.49 129.53L358.79 133.67L354.19 133.67Z" fill="#12307f"/><path d="M356.49 132.68L358.79 136.82L354.19 136.82Z" fill="#12307f"/><path d="M356.49 135.45L358.79 139.59L354.19 139.59Z" fill="#12307f"/><path d="M356.49 147.93L358.79 152.07L354.19 152.07Z" fill="#12307f"/><path d="M356.49 152.46L358.79 156.6L354.19 156.6Z" fill="#12307f"/><path d="M364.79 144.2L367.09 140.06L362.49 140.06Z" fill="#4f9a1e"/><path d="M364.79 146.34L367.09 142.2L362.49 142.2Z" fill="#4f9a1e"/><path d="M364.79 148.86L367.09 144.72L362.49 144.72Z" fill="#4f9a1e"/><path d="M364.79 151.38L367.09 147.24L362.49 147.24Z" fill="#4f9a1e"/><path d="M364.79 153.9L367.09 149.76L362.49 149.76Z" fill="#4f9a1e"/><path d="M364.79 156.42L367.09 152.28L362.49 152.28Z" fill="#4f9a1e"/><circle cx="373.09" cy="142.6" r="2" fill="none" stroke="#6b2d8c" stroke-width="1"/><circle cx="373.09" cy="144.36" r="2" fill="none" stroke="#6b2d8c" stroke-width="1"/><circle cx="373.09" cy="147.64" r="2" fill="none" stroke="#6b2d8c" stroke-width="1"/><circle cx="373.09" cy="148.9" r="2" fill="none" stroke="#6b2d8c" stroke-width="1"/><circle cx="373.09" cy="151.42" r="2" fill="none" stroke="#6b2d8c" stroke-width="1"/><circle cx="373.09" cy="152.68" r="2" fill="none" stroke="#6b2d8c" stroke-width="1"/><circle cx="373.09" cy="153.94" r="2" fill="none" stroke="#6b2d8c" stroke-width="1"/><circle cx="373.09" cy="154.57" r="2" fill="none" stroke="#6b2d8c" stroke-width="1"/><path d="M381.59 135.5L383.79 139.36L379.39 139.36Z" fill="none" stroke="#e8920e" stroke-width="1" stroke-linejoin="miter"/><path d="M381.59 138.02L383.79 141.88L379.39 141.88Z" fill="none" stroke="#e8920e" stroke-width="1" stroke-linejoin="miter"/><path d="M381.59 144.06L383.79 147.92L379.39 147.92Z" fill="none" stroke="#e8920e" stroke-width="1" stroke-linejoin="miter"/><path d="M381.59 147.21L383.79 151.07L379.39 151.07Z" fill="none" stroke="#e8920e" stroke-width="1" stroke-linejoin="miter"/><path d="M381.59 150.99L383.79 154.85L379.39 154.85Z" fill="none" stroke="#e8920e" stroke-width="1" stroke-linejoin="miter"/><circle cx="395.51" cy="81.11" r="2.1" fill="#ab0029"/><circle cx="395.51" cy="84.77" r="2.1" fill="#ab0029"/><circle cx="395.51" cy="94.85" r="2.1" fill="#ab0029"/><circle cx="395.51" cy="107.07" r="2.1" fill="#ab0029"/><circle cx="395.51" cy="118.66" r="2.1" fill="#ab0029"/><circle cx="395.51" cy="121.18" r="2.1" fill="#ab0029"/><circle cx="395.51" cy="123.7" r="2.1" fill="#ab0029"/><circle cx="395.51" cy="126.22" r="2.1" fill="#ab0029"/><circle cx="395.51" cy="128.74" r="2.1" fill="#ab0029"/><circle cx="395.51" cy="131.26" r="2.1" fill="#ab0029"/><circle cx="395.51" cy="135.17" r="2.1" fill="#ab0029"/><circle cx="395.51" cy="138.69" r="2.1" fill="#ab0029"/><path d="M404.01 79.13L406.31 83.27L401.71 83.27Z" fill="#12307f"/><path d="M404.01 84.17L406.31 88.31L401.71 88.31Z" fill="#12307f"/><path d="M404.01 89.21L406.31 93.35L401.71 93.35Z" fill="#12307f"/><path d="M404.01 92.36L406.31 96.5L401.71 96.5Z" fill="#12307f"/><path d="M404.01 121.59L406.31 125.73L401.71 125.73Z" fill="#12307f"/><path d="M404.01 124.24L406.31 128.38L401.71 128.38Z" fill="#12307f"/><path d="M404.01 126.76L406.31 130.9L401.71 130.9Z" fill="#12307f"/><path d="M404.01 128.78L406.31 132.92L401.71 132.92Z" fill="#12307f"/><path d="M404.01 138.35L406.31 142.49L401.71 142.49Z" fill="#12307f"/><path d="M404.01 140.37L406.31 144.51L401.71 144.51Z" fill="#12307f"/><path d="M412.31 74.4L414.61 70.26L410.01 70.26Z" fill="#4f9a1e"/><path d="M412.31 79.44L414.61 75.3L410.01 75.3Z" fill="#4f9a1e"/><path d="M412.31 81.83L414.61 77.69L410.01 77.69Z" fill="#4f9a1e"/><path d="M412.31 84.98L414.61 80.84L410.01 80.84Z" fill="#4f9a1e"/><path d="M412.31 103.5L414.61 99.36L410.01 99.36Z" fill="#4f9a1e"/><path d="M412.31 106.02L414.61 101.88L410.01 101.88Z" fill="#4f9a1e"/><path d="M412.31 108.54L414.61 104.4L410.01 104.4Z" fill="#4f9a1e"/><path d="M412.31 111.06L414.61 106.92L410.01 106.92Z" fill="#4f9a1e"/><path d="M412.31 117.62L414.61 113.48L410.01 113.48Z" fill="#4f9a1e"/><path d="M412.31 128.07L414.61 123.93L410.01 123.93Z" fill="#4f9a1e"/><circle cx="420.61" cy="65.49" r="2" fill="none" stroke="#6b2d8c" stroke-width="1"/><circle cx="420.61" cy="70.65" r="2" fill="none" stroke="#6b2d8c" stroke-width="1"/><circle cx="420.61" cy="72.8" r="2" fill="none" stroke="#6b2d8c" stroke-width="1"/><circle cx="420.61" cy="74.18" r="2" fill="none" stroke="#6b2d8c" stroke-width="1"/><circle cx="420.61" cy="91.19" r="2" fill="none" stroke="#6b2d8c" stroke-width="1"/><circle cx="420.61" cy="92.96" r="2" fill="none" stroke="#6b2d8c" stroke-width="1"/><circle cx="420.61" cy="102.15" r="2" fill="none" stroke="#6b2d8c" stroke-width="1"/><circle cx="420.61" cy="114.12" r="2" fill="none" stroke="#6b2d8c" stroke-width="1"/><circle cx="420.61" cy="115.13" r="2" fill="none" stroke="#6b2d8c" stroke-width="1"/><circle cx="420.61" cy="117.65" r="2" fill="none" stroke="#6b2d8c" stroke-width="1"/><circle cx="420.61" cy="124.58" r="2" fill="none" stroke="#6b2d8c" stroke-width="1"/><path d="M429.11 83.46L431.31 87.32L426.91 87.32Z" fill="none" stroke="#e8920e" stroke-width="1" stroke-linejoin="miter"/><path d="M429.11 98.07L431.31 101.93L426.91 101.93Z" fill="none" stroke="#e8920e" stroke-width="1" stroke-linejoin="miter"/><path d="M429.11 100.34L431.31 104.2L426.91 104.2Z" fill="none" stroke="#e8920e" stroke-width="1" stroke-linejoin="miter"/><path d="M429.11 102.74L431.31 106.6L426.91 106.6Z" fill="none" stroke="#e8920e" stroke-width="1" stroke-linejoin="miter"/><path d="M429.11 103.24L431.31 107.1L426.91 107.1Z" fill="none" stroke="#e8920e" stroke-width="1" stroke-linejoin="miter"/><path d="M429.11 112.82L431.31 116.68L426.91 116.68Z" fill="none" stroke="#e8920e" stroke-width="1" stroke-linejoin="miter"/><path d="M429.11 121.76L431.31 125.62L426.91 125.62Z" fill="none" stroke="#e8920e" stroke-width="1" stroke-linejoin="miter"/><path d="M429.11 135.37L431.31 139.23L426.91 139.23Z" fill="none" stroke="#e8920e" stroke-width="1" stroke-linejoin="miter"/><circle cx="443.04" cy="109.46" r="2.1" fill="#ab0029"/><circle cx="443.04" cy="111.86" r="2.1" fill="#ab0029"/><circle cx="443.04" cy="114.12" r="2.1" fill="#ab0029"/><circle cx="443.04" cy="114.63" r="2.1" fill="#ab0029"/><circle cx="443.04" cy="119.04" r="2.1" fill="#ab0029"/><circle cx="443.04" cy="121.05" r="2.1" fill="#ab0029"/><circle cx="443.04" cy="128.74" r="2.1" fill="#ab0029"/><circle cx="443.04" cy="131.26" r="2.1" fill="#ab0029"/><circle cx="443.04" cy="133.78" r="2.1" fill="#ab0029"/><circle cx="443.04" cy="137.69" r="2.1" fill="#ab0029"/><circle cx="443.04" cy="143.36" r="2.1" fill="#ab0029"/><path d="M451.54 102.44L453.84 106.58L449.24 106.58Z" fill="#12307f"/><path d="M451.54 104.71L453.84 108.85L449.24 108.85Z" fill="#12307f"/><path d="M451.54 115.67L453.84 119.81L449.24 119.81Z" fill="#12307f"/><path d="M451.54 118.57L453.84 122.71L449.24 122.71Z" fill="#12307f"/><path d="M451.54 123.11L453.84 127.25L449.24 127.25Z" fill="#12307f"/><path d="M451.54 128.27L453.84 132.41L449.24 132.41Z" fill="#12307f"/><path d="M451.54 131.67L453.84 135.81L449.24 135.81Z" fill="#12307f"/><path d="M451.54 134.7L453.84 138.84L449.24 138.84Z" fill="#12307f"/><path d="M451.54 141.75L453.84 145.89L449.24 145.89Z" fill="#12307f"/><path d="M459.84 76.67L462.14 72.53L457.54 72.53Z" fill="#4f9a1e"/><path d="M459.84 81.33L462.14 77.19L457.54 77.19Z" fill="#4f9a1e"/><path d="M459.84 89.14L462.14 85L457.54 85Z" fill="#4f9a1e"/><path d="M459.84 90.53L462.14 86.39L457.54 86.39Z" fill="#4f9a1e"/><path d="M459.84 102.75L462.14 98.61L457.54 98.61Z" fill="#4f9a1e"/><path d="M459.84 109.68L462.14 105.54L457.54 105.54Z" fill="#4f9a1e"/><path d="M459.84 110.43L462.14 106.29L457.54 106.29Z" fill="#4f9a1e"/><path d="M459.84 114.47L462.14 110.33L457.54 110.33Z" fill="#4f9a1e"/><path d="M459.84 118.62L462.14 114.48L457.54 114.48Z" fill="#4f9a1e"/><path d="M459.84 122.53L462.14 118.39L457.54 118.39Z" fill="#4f9a1e"/><path d="M459.84 126.06L462.14 121.92L457.54 121.92Z" fill="#4f9a1e"/><circle cx="468.14" cy="78.34" r="2" fill="none" stroke="#6b2d8c" stroke-width="1"/><circle cx="468.14" cy="85.65" r="2" fill="none" stroke="#6b2d8c" stroke-width="1"/><circle cx="468.14" cy="92.96" r="2" fill="none" stroke="#6b2d8c" stroke-width="1"/><circle cx="468.14" cy="97.11" r="2" fill="none" stroke="#6b2d8c" stroke-width="1"/><circle cx="468.14" cy="98.88" r="2" fill="none" stroke="#6b2d8c" stroke-width="1"/><circle cx="468.14" cy="107.19" r="2" fill="none" stroke="#6b2d8c" stroke-width="1"/><circle cx="468.14" cy="112.74" r="2" fill="none" stroke="#6b2d8c" stroke-width="1"/><circle cx="468.14" cy="119.04" r="2" fill="none" stroke="#6b2d8c" stroke-width="1"/><circle cx="468.14" cy="126.09" r="2" fill="none" stroke="#6b2d8c" stroke-width="1"/><circle cx="468.14" cy="129.24" r="2" fill="none" stroke="#6b2d8c" stroke-width="1"/><path d="M476.64 85.6L478.84 89.46L474.44 89.46Z" fill="none" stroke="#e8920e" stroke-width="1" stroke-linejoin="miter"/><path d="M476.64 87.49L478.84 91.35L474.44 91.35Z" fill="none" stroke="#e8920e" stroke-width="1" stroke-linejoin="miter"/><path d="M476.64 91.14L478.84 95L474.44 95Z" fill="none" stroke="#e8920e" stroke-width="1" stroke-linejoin="miter"/><path d="M476.64 97.95L478.84 101.81L474.44 101.81Z" fill="none" stroke="#e8920e" stroke-width="1" stroke-linejoin="miter"/><path d="M476.64 113.32L478.84 117.18L474.44 117.18Z" fill="none" stroke="#e8920e" stroke-width="1" stroke-linejoin="miter"/><path d="M476.64 115.34L478.84 119.2L474.44 119.2Z" fill="none" stroke="#e8920e" stroke-width="1" stroke-linejoin="miter"/><path d="M476.64 116.72L478.84 120.58L474.44 120.58Z" fill="none" stroke="#e8920e" stroke-width="1" stroke-linejoin="miter"/><path d="M476.64 123.78L478.84 127.64L474.44 127.64Z" fill="none" stroke="#e8920e" stroke-width="1" stroke-linejoin="miter"/><line x1="300.46" y1="113.62" x2="300.46" y2="140.33" stroke="#1a1a1a" stroke-width="1.1"/><line x1="299.06" y1="113.62" x2="301.86" y2="113.62" stroke="#1a1a1a" stroke-width="1.1"/><line x1="299.06" y1="140.33" x2="301.86" y2="140.33" stroke="#1a1a1a" stroke-width="1.1"/><line x1="297.86" y1="126.98" x2="303.06" y2="126.98" stroke="#1a1a1a" stroke-width="1.5"/><line x1="308.96" y1="102.41" x2="308.96" y2="143.23" stroke="#1a1a1a" stroke-width="1.1"/><line x1="307.56" y1="102.41" x2="310.36" y2="102.41" stroke="#1a1a1a" stroke-width="1.1"/><line x1="307.56" y1="143.23" x2="310.36" y2="143.23" stroke="#1a1a1a" stroke-width="1.1"/><line x1="306.36" y1="122.82" x2="311.56" y2="122.82" stroke="#1a1a1a" stroke-width="1.5"/><line x1="317.26" y1="129.37" x2="317.26" y2="155.2" stroke="#1a1a1a" stroke-width="1.1"/><line x1="315.86" y1="129.37" x2="318.66" y2="129.37" stroke="#1a1a1a" stroke-width="1.1"/><line x1="315.86" y1="155.2" x2="318.66" y2="155.2" stroke="#1a1a1a" stroke-width="1.1"/><line x1="314.66" y1="142.98" x2="319.86" y2="142.98" stroke="#1a1a1a" stroke-width="1.5"/><line x1="325.56" y1="139.45" x2="325.56" y2="155.2" stroke="#1a1a1a" stroke-width="1.1"/><line x1="324.16" y1="139.45" x2="326.96" y2="139.45" stroke="#1a1a1a" stroke-width="1.1"/><line x1="324.16" y1="155.2" x2="326.96" y2="155.2" stroke="#1a1a1a" stroke-width="1.1"/><line x1="322.96" y1="148.52" x2="328.16" y2="148.52" stroke="#1a1a1a" stroke-width="1.5"/><line x1="334.06" y1="113.62" x2="334.06" y2="150.41" stroke="#1a1a1a" stroke-width="1.1"/><line x1="332.66" y1="113.62" x2="335.46" y2="113.62" stroke="#1a1a1a" stroke-width="1.1"/><line x1="332.66" y1="150.41" x2="335.46" y2="150.41" stroke="#1a1a1a" stroke-width="1.1"/><line x1="331.46" y1="132.02" x2="336.66" y2="132.02" stroke="#1a1a1a" stroke-width="1.5"/><line x1="347.99" y1="112.36" x2="347.99" y2="140.33" stroke="#1a1a1a" stroke-width="1.1"/><line x1="346.59" y1="112.36" x2="349.39" y2="112.36" stroke="#1a1a1a" stroke-width="1.1"/><line x1="346.59" y1="140.33" x2="349.39" y2="140.33" stroke="#1a1a1a" stroke-width="1.1"/><line x1="345.39" y1="126.35" x2="350.59" y2="126.35" stroke="#1a1a1a" stroke-width="1.5"/><line x1="356.49" y1="115.64" x2="356.49" y2="142.1" stroke="#1a1a1a" stroke-width="1.1"/><line x1="355.09" y1="115.64" x2="357.89" y2="115.64" stroke="#1a1a1a" stroke-width="1.1"/><line x1="355.09" y1="142.1" x2="357.89" y2="142.1" stroke="#1a1a1a" stroke-width="1.1"/><line x1="353.89" y1="128.87" x2="359.09" y2="128.87" stroke="#1a1a1a" stroke-width="1.5"/><line x1="364.79" y1="142.1" x2="364.79" y2="155.2" stroke="#1a1a1a" stroke-width="1.1"/><line x1="363.39" y1="142.1" x2="366.19" y2="142.1" stroke="#1a1a1a" stroke-width="1.1"/><line x1="363.39" y1="155.2" x2="366.19" y2="155.2" stroke="#1a1a1a" stroke-width="1.1"/><line x1="362.19" y1="150.41" x2="367.39" y2="150.41" stroke="#1a1a1a" stroke-width="1.5"/><line x1="373.09" y1="146.25" x2="373.09" y2="154.57" stroke="#1a1a1a" stroke-width="1.1"/><line x1="371.69" y1="146.25" x2="374.49" y2="146.25" stroke="#1a1a1a" stroke-width="1.1"/><line x1="371.69" y1="154.57" x2="374.49" y2="154.57" stroke="#1a1a1a" stroke-width="1.1"/><line x1="370.49" y1="150.41" x2="375.69" y2="150.41" stroke="#1a1a1a" stroke-width="1.5"/><line x1="381.59" y1="140.71" x2="381.59" y2="154.57" stroke="#1a1a1a" stroke-width="1.1"/><line x1="380.19" y1="140.71" x2="382.99" y2="140.71" stroke="#1a1a1a" stroke-width="1.1"/><line x1="380.19" y1="154.57" x2="382.99" y2="154.57" stroke="#1a1a1a" stroke-width="1.1"/><line x1="378.99" y1="147.64" x2="384.19" y2="147.64" stroke="#1a1a1a" stroke-width="1.5"/><line x1="395.51" y1="98.25" x2="395.51" y2="137.06" stroke="#1a1a1a" stroke-width="1.1"/><line x1="394.11" y1="98.25" x2="396.91" y2="98.25" stroke="#1a1a1a" stroke-width="1.1"/><line x1="394.11" y1="137.06" x2="396.91" y2="137.06" stroke="#1a1a1a" stroke-width="1.1"/><line x1="392.91" y1="117.65" x2="398.11" y2="117.65" stroke="#1a1a1a" stroke-width="1.5"/><line x1="404.01" y1="96.23" x2="404.01" y2="139.2" stroke="#1a1a1a" stroke-width="1.1"/><line x1="402.61" y1="96.23" x2="405.41" y2="96.23" stroke="#1a1a1a" stroke-width="1.1"/><line x1="402.61" y1="139.2" x2="405.41" y2="139.2" stroke="#1a1a1a" stroke-width="1.1"/><line x1="401.41" y1="117.65" x2="406.61" y2="117.65" stroke="#1a1a1a" stroke-width="1.5"/><line x1="412.31" y1="83.38" x2="412.31" y2="113.62" stroke="#1a1a1a" stroke-width="1.1"/><line x1="410.91" y1="83.38" x2="413.71" y2="83.38" stroke="#1a1a1a" stroke-width="1.1"/><line x1="410.91" y1="113.62" x2="413.71" y2="113.62" stroke="#1a1a1a" stroke-width="1.1"/><line x1="409.71" y1="98.12" x2="414.91" y2="98.12" stroke="#1a1a1a" stroke-width="1.5"/><line x1="420.61" y1="73.3" x2="420.61" y2="113.62" stroke="#1a1a1a" stroke-width="1.1"/><line x1="419.21" y1="73.3" x2="422.01" y2="73.3" stroke="#1a1a1a" stroke-width="1.1"/><line x1="419.21" y1="113.62" x2="422.01" y2="113.62" stroke="#1a1a1a" stroke-width="1.1"/><line x1="418.01" y1="93.21" x2="423.21" y2="93.21" stroke="#1a1a1a" stroke-width="1.5"/><line x1="429.11" y1="92.58" x2="429.11" y2="125.84" stroke="#1a1a1a" stroke-width="1.1"/><line x1="427.71" y1="92.58" x2="430.51" y2="92.58" stroke="#1a1a1a" stroke-width="1.1"/><line x1="427.71" y1="125.84" x2="430.51" y2="125.84" stroke="#1a1a1a" stroke-width="1.1"/><line x1="426.51" y1="109.21" x2="431.71" y2="109.21" stroke="#1a1a1a" stroke-width="1.5"/><line x1="443.04" y1="117.15" x2="443.04" y2="135.17" stroke="#1a1a1a" stroke-width="1.1"/><line x1="441.64" y1="117.15" x2="444.44" y2="117.15" stroke="#1a1a1a" stroke-width="1.1"/><line x1="441.64" y1="135.17" x2="444.44" y2="135.17" stroke="#1a1a1a" stroke-width="1.1"/><line x1="440.44" y1="126.35" x2="445.64" y2="126.35" stroke="#1a1a1a" stroke-width="1.5"/><line x1="451.54" y1="115.64" x2="451.54" y2="139.2" stroke="#1a1a1a" stroke-width="1.1"/><line x1="450.14" y1="115.64" x2="452.94" y2="115.64" stroke="#1a1a1a" stroke-width="1.1"/><line x1="450.14" y1="139.2" x2="452.94" y2="139.2" stroke="#1a1a1a" stroke-width="1.1"/><line x1="448.94" y1="127.23" x2="454.14" y2="127.23" stroke="#1a1a1a" stroke-width="1.5"/><line x1="459.84" y1="89.05" x2="459.84" y2="120.55" stroke="#1a1a1a" stroke-width="1.1"/><line x1="458.44" y1="89.05" x2="461.24" y2="89.05" stroke="#1a1a1a" stroke-width="1.1"/><line x1="458.44" y1="120.55" x2="461.24" y2="120.55" stroke="#1a1a1a" stroke-width="1.1"/><line x1="457.24" y1="104.93" x2="462.44" y2="104.93" stroke="#1a1a1a" stroke-width="1.5"/><line x1="468.14" y1="87.92" x2="468.14" y2="120.05" stroke="#1a1a1a" stroke-width="1.1"/><line x1="466.74" y1="87.92" x2="469.54" y2="87.92" stroke="#1a1a1a" stroke-width="1.1"/><line x1="466.74" y1="120.05" x2="469.54" y2="120.05" stroke="#1a1a1a" stroke-width="1.1"/><line x1="465.54" y1="104.04" x2="470.74" y2="104.04" stroke="#1a1a1a" stroke-width="1.5"/><line x1="476.64" y1="93.84" x2="476.64" y2="121.05" stroke="#1a1a1a" stroke-width="1.1"/><line x1="475.24" y1="93.84" x2="478.04" y2="93.84" stroke="#1a1a1a" stroke-width="1.1"/><line x1="475.24" y1="121.05" x2="478.04" y2="121.05" stroke="#1a1a1a" stroke-width="1.1"/><line x1="474.04" y1="107.45" x2="479.24" y2="107.45" stroke="#1a1a1a" stroke-width="1.5"/><text transform="translate(266.3 90.7) rotate(-90)" font-size="10" text-anchor="middle" textLength="53.5" lengthAdjust="spacingAndGlyphs">% total CD8 cells</text><line x1="300.46" y1="38.3" x2="317.26" y2="38.3" stroke="#1a1a1a" stroke-width="1.2"/><line x1="300.46" y1="34.1" x2="300.46" y2="42.5" stroke="#1a1a1a" stroke-width="1.2"/><line x1="317.26" y1="34.1" x2="317.26" y2="42.5" stroke="#1a1a1a" stroke-width="1.2"/><ellipse cx="308.86" cy="30.7" rx="1.15" ry="0.95" fill="#222"/><line x1="300.46" y1="25.7" x2="325.56" y2="25.7" stroke="#1a1a1a" stroke-width="1.2"/><line x1="300.46" y1="21.5" x2="300.46" y2="29.9" stroke="#1a1a1a" stroke-width="1.2"/><line x1="325.56" y1="21.5" x2="325.56" y2="29.9" stroke="#1a1a1a" stroke-width="1.2"/><ellipse cx="311.46" cy="18.1" rx="1.15" ry="0.95" fill="#222"/><ellipse cx="314.56" cy="18.1" rx="1.15" ry="0.95" fill="#222"/><line x1="347.99" y1="38.3" x2="364.79" y2="38.3" stroke="#1a1a1a" stroke-width="1.2"/><line x1="347.99" y1="34.1" x2="347.99" y2="42.5" stroke="#1a1a1a" stroke-width="1.2"/><line x1="364.79" y1="34.1" x2="364.79" y2="42.5" stroke="#1a1a1a" stroke-width="1.2"/><ellipse cx="353.29" cy="30.7" rx="1.15" ry="0.95" fill="#222"/><ellipse cx="356.39" cy="30.7" rx="1.15" ry="0.95" fill="#222"/><ellipse cx="359.49" cy="30.7" rx="1.15" ry="0.95" fill="#222"/><line x1="347.99" y1="25.7" x2="373.09" y2="25.7" stroke="#1a1a1a" stroke-width="1.2"/><line x1="347.99" y1="21.5" x2="347.99" y2="29.9" stroke="#1a1a1a" stroke-width="1.2"/><line x1="373.09" y1="21.5" x2="373.09" y2="29.9" stroke="#1a1a1a" stroke-width="1.2"/><ellipse cx="358.99" cy="18.1" rx="1.15" ry="0.95" fill="#222"/><ellipse cx="362.09" cy="18.1" rx="1.15" ry="0.95" fill="#222"/><line x1="347.99" y1="13.4" x2="381.59" y2="13.4" stroke="#1a1a1a" stroke-width="1.2"/><line x1="347.99" y1="9.2" x2="347.99" y2="17.6" stroke="#1a1a1a" stroke-width="1.2"/><line x1="381.59" y1="9.2" x2="381.59" y2="17.6" stroke="#1a1a1a" stroke-width="1.2"/><ellipse cx="364.79" cy="5.8" rx="1.15" ry="0.95" fill="#222"/><line x1="395.51" y1="38.3" x2="412.31" y2="38.3" stroke="#1a1a1a" stroke-width="1.2"/><line x1="395.51" y1="34.1" x2="395.51" y2="42.5" stroke="#1a1a1a" stroke-width="1.2"/><line x1="412.31" y1="34.1" x2="412.31" y2="42.5" stroke="#1a1a1a" stroke-width="1.2"/><ellipse cx="403.91" cy="30.7" rx="1.15" ry="0.95" fill="#222"/><line x1="395.51" y1="25.7" x2="420.61" y2="25.7" stroke="#1a1a1a" stroke-width="1.2"/><line x1="395.51" y1="21.5" x2="395.51" y2="29.9" stroke="#1a1a1a" stroke-width="1.2"/><line x1="420.61" y1="21.5" x2="420.61" y2="29.9" stroke="#1a1a1a" stroke-width="1.2"/><ellipse cx="406.51" cy="18.1" rx="1.15" ry="0.95" fill="#222"/><ellipse cx="409.61" cy="18.1" rx="1.15" ry="0.95" fill="#222"/><line x1="443.04" y1="38.3" x2="459.84" y2="38.3" stroke="#1a1a1a" stroke-width="1.2"/><line x1="443.04" y1="34.1" x2="443.04" y2="42.5" stroke="#1a1a1a" stroke-width="1.2"/><line x1="459.84" y1="34.1" x2="459.84" y2="42.5" stroke="#1a1a1a" stroke-width="1.2"/><ellipse cx="449.89" cy="30.7" rx="1.15" ry="0.95" fill="#222"/><ellipse cx="452.99" cy="30.7" rx="1.15" ry="0.95" fill="#222"/><line x1="443.04" y1="25.7" x2="468.14" y2="25.7" stroke="#1a1a1a" stroke-width="1.2"/><line x1="443.04" y1="21.5" x2="443.04" y2="29.9" stroke="#1a1a1a" stroke-width="1.2"/><line x1="468.14" y1="21.5" x2="468.14" y2="29.9" stroke="#1a1a1a" stroke-width="1.2"/><ellipse cx="452.49" cy="18.1" rx="1.15" ry="0.95" fill="#222"/><ellipse cx="455.59" cy="18.1" rx="1.15" ry="0.95" fill="#222"/><ellipse cx="458.69" cy="18.1" rx="1.15" ry="0.95" fill="#222"/>
<circle cx="489.6" cy="30.9" r="2.1" fill="#ab0029"/>
<text x="495.2" y="33.9" font-size="9.02" text-anchor="start" textLength="5.47" lengthAdjust="spacingAndGlyphs">B</text>
<path d="M489.6 40.47L491.9 44.61L487.3 44.61Z" fill="#12307f"/>
<text x="495.2" y="45.95" font-size="9.02" text-anchor="start" textLength="16.86" lengthAdjust="spacingAndGlyphs">W16</text>
<path d="M489.6 57.48L491.9 53.34L487.3 53.34Z" fill="#4f9a1e"/>
<text x="495.2" y="58" font-size="9.02" text-anchor="start" textLength="15.95" lengthAdjust="spacingAndGlyphs">12M</text>
<circle cx="489.6" cy="67.05" r="2" fill="none" stroke="#6b2d8c" stroke-width="1"/>
<text x="495.2" y="70.05" font-size="9.02" text-anchor="start" textLength="15.95" lengthAdjust="spacingAndGlyphs">24M</text>
<path d="M489.6 76.78L491.8 80.64L487.4 80.64Z" fill="none" stroke="#e8920e" stroke-width="1" stroke-linejoin="miter"/>
<text x="495.2" y="82.1" font-size="9.02" text-anchor="start" textLength="15.95" lengthAdjust="spacingAndGlyphs">48M</text>
<line x1="51.3" y1="348.2" x2="51.3" y2="232.1" stroke="#1a1a1a" stroke-width="1.3"/><line x1="48.3" y1="347.6" x2="51.3" y2="347.6" stroke="#1a1a1a" stroke-width="1.2"/><text x="44.3" y="350.6" font-size="9.38" text-anchor="end" textLength="4.62" lengthAdjust="spacingAndGlyphs">0</text><line x1="48.3" y1="325.1" x2="51.3" y2="325.1" stroke="#1a1a1a" stroke-width="1.2"/><text x="44.3" y="328.1" font-size="9.38" text-anchor="end" textLength="9.23" lengthAdjust="spacingAndGlyphs">10</text><line x1="48.3" y1="302.6" x2="51.3" y2="302.6" stroke="#1a1a1a" stroke-width="1.2"/><text x="44.3" y="305.6" font-size="9.38" text-anchor="end" textLength="9.23" lengthAdjust="spacingAndGlyphs">20</text><line x1="48.3" y1="280.1" x2="51.3" y2="280.1" stroke="#1a1a1a" stroke-width="1.2"/><text x="44.3" y="283.1" font-size="9.38" text-anchor="end" textLength="9.23" lengthAdjust="spacingAndGlyphs">30</text><line x1="48.3" y1="257.6" x2="51.3" y2="257.6" stroke="#1a1a1a" stroke-width="1.2"/><text x="44.3" y="260.6" font-size="9.38" text-anchor="end" textLength="9.23" lengthAdjust="spacingAndGlyphs">40</text><line x1="48.3" y1="235.1" x2="51.3" y2="235.1" stroke="#1a1a1a" stroke-width="1.2"/><text x="44.3" y="238.1" font-size="9.38" text-anchor="end" textLength="9.23" lengthAdjust="spacingAndGlyphs">50</text><line x1="48.3" y1="347.6" x2="220.9" y2="347.6" stroke="#1a1a1a" stroke-width="1.3"/><line x1="61.9" y1="347.6" x2="61.9" y2="350.6" stroke="#1a1a1a" stroke-width="1.2"/><text x="61.9" y="361.9" font-size="9.41" text-anchor="middle" textLength="5.6" lengthAdjust="spacingAndGlyphs">B</text><line x1="83.1" y1="347.6" x2="83.1" y2="350.6" stroke="#1a1a1a" stroke-width="1.2"/><text x="83.1" y="361.9" font-size="9.41" text-anchor="middle" textLength="12.6" lengthAdjust="spacingAndGlyphs">W4</text><line x1="104.3" y1="347.6" x2="104.3" y2="350.6" stroke="#1a1a1a" stroke-width="1.2"/><text x="104.3" y="361.9" font-size="9.41" text-anchor="middle" textLength="17.27" lengthAdjust="spacingAndGlyphs">W16</text><line x1="125.5" y1="347.6" x2="125.5" y2="350.6" stroke="#1a1a1a" stroke-width="1.2"/><text x="125.5" y="361.9" font-size="9.41" text-anchor="middle" textLength="16.34" lengthAdjust="spacingAndGlyphs">12M</text><line x1="146.7" y1="347.6" x2="146.7" y2="350.6" stroke="#1a1a1a" stroke-width="1.2"/><text x="146.7" y="361.9" font-size="9.41" text-anchor="middle" textLength="16.34" lengthAdjust="spacingAndGlyphs">18M</text><line x1="167.9" y1="347.6" x2="167.9" y2="350.6" stroke="#1a1a1a" stroke-width="1.2"/><text x="167.9" y="361.9" font-size="9.41" text-anchor="middle" textLength="16.34" lengthAdjust="spacingAndGlyphs">24M</text><line x1="189.1" y1="347.6" x2="189.1" y2="350.6" stroke="#1a1a1a" stroke-width="1.2"/><text x="189.1" y="361.9" font-size="9.41" text-anchor="middle" textLength="16.34" lengthAdjust="spacingAndGlyphs">36M</text><line x1="210.3" y1="347.6" x2="210.3" y2="350.6" stroke="#1a1a1a" stroke-width="1.2"/><text x="210.3" y="361.9" font-size="9.41" text-anchor="middle" textLength="16.34" lengthAdjust="spacingAndGlyphs">48M</text><rect x="59.7" y="276.78" width="4.4" height="4.4" fill="#ab0027"/><rect x="56.3" y="295" width="4.4" height="4.4" fill="#ab0027"/><rect x="63.3" y="298.15" width="4.4" height="4.4" fill="#ab0027"/><rect x="56.7" y="309.18" width="4.4" height="4.4" fill="#ab0027"/><rect x="62.7" y="309.18" width="4.4" height="4.4" fill="#ab0027"/><rect x="54.7" y="310.98" width="4.4" height="4.4" fill="#ab0027"/><rect x="59.7" y="313.68" width="4.4" height="4.4" fill="#ab0027"/><rect x="63.7" y="315.25" width="4.4" height="4.4" fill="#ab0027"/><rect x="56.3" y="316.6" width="4.4" height="4.4" fill="#ab0027"/><rect x="59.7" y="319.3" width="4.4" height="4.4" fill="#ab0027"/><rect x="59.7" y="340" width="4.4" height="4.4" fill="#ab0027"/><circle cx="83.1" cy="261.43" r="2.4" fill="#1d3c84"/><circle cx="86.6" cy="294.95" r="2.4" fill="#1d3c84"/><circle cx="79.7" cy="299" r="2.4" fill="#1d3c84"/><circle cx="84.7" cy="299" r="2.4" fill="#1d3c84"/><circle cx="79.7" cy="306.43" r="2.4" fill="#1d3c84"/><circle cx="86.6" cy="311.38" r="2.4" fill="#1d3c84"/><circle cx="82.7" cy="319.25" r="2.4" fill="#1d3c84"/><circle cx="79.7" cy="322.4" r="2.4" fill="#1d3c84"/><circle cx="86.2" cy="326.68" r="2.4" fill="#1d3c84"/><circle cx="79.7" cy="331.4" r="2.4" fill="#1d3c84"/><circle cx="82.7" cy="337.48" r="2.4" fill="#1d3c84"/><circle cx="86.2" cy="337.48" r="2.4" fill="#1d3c84"/><path d="M104.3 251.87L106.9 256.55L101.7 256.55Z" fill="#5aab32"/><path d="M104.3 292.14L106.9 296.82L101.7 296.82Z" fill="#5aab32"/><path d="M100.3 305.87L102.9 310.55L97.7 310.55Z" fill="#5aab32"/><path d="M108.3 306.77L110.9 311.45L105.7 311.45Z" fill="#5aab32"/><path d="M97.8 320.49L100.4 325.17L95.2 325.17Z" fill="#5aab32"/><path d="M101.3 321.39L103.9 326.07L98.7 326.07Z" fill="#5aab32"/><path d="M108.3 321.39L110.9 326.07L105.7 326.07Z" fill="#5aab32"/><path d="M100.3 325.89L102.9 330.57L97.7 330.57Z" fill="#5aab32"/><path d="M104.3 326.79L106.9 331.47L101.7 331.47Z" fill="#5aab32"/><path d="M108.3 325.89L110.9 330.57L105.7 330.57Z" fill="#5aab32"/><path d="M100.3 338.72L102.9 343.4L97.7 343.4Z" fill="#5aab32"/><path d="M108.3 338.72L110.9 343.4L105.7 343.4Z" fill="#5aab32"/><path d="M122.5 308.78L125.1 304.1L119.9 304.1Z" fill="#4b1a66"/><path d="M129 306.31L131.6 301.63L126.4 301.63Z" fill="#4b1a66"/><path d="M120.5 326.11L123.1 321.43L117.9 321.43Z" fill="#4b1a66"/><path d="M124.5 330.61L127.1 325.93L121.9 325.93Z" fill="#4b1a66"/><path d="M129.5 330.61L132.1 325.93L126.9 325.93Z" fill="#4b1a66"/><path d="M122.5 333.31L125.1 328.63L119.9 328.63Z" fill="#4b1a66"/><path d="M126.5 333.31L129.1 328.63L123.9 328.63Z" fill="#4b1a66"/><path d="M120.5 347.03L123.1 342.35L117.9 342.35Z" fill="#4b1a66"/><path d="M128.5 345.23L131.1 340.55L125.9 340.55Z" fill="#4b1a66"/><path d="M150.5 315.62L153 318.12L150.5 320.62L148 318.12Z" fill="#e0880f"/><path d="M142.5 320.35L145 322.85L142.5 325.35L140 322.85Z" fill="#e0880f"/><path d="M147.5 321.7L150 324.2L147.5 326.7L145 324.2Z" fill="#e0880f"/><path d="M141 331.15L143.5 333.65L141 336.15L138.5 333.65Z" fill="#e0880f"/><path d="M146.5 331.15L149 333.65L146.5 336.15L144 333.65Z" fill="#e0880f"/><path d="M150 331.15L152.5 333.65L150 336.15L147.5 333.65Z" fill="#e0880f"/><path d="M140.5 340.15L143 342.65L140.5 345.15L138 342.65Z" fill="#e0880f"/><path d="M144.5 341.73L147 344.23L144.5 346.73L142 344.23Z" fill="#e0880f"/><path d="M148.5 340.15L151 342.65L148.5 345.15L146 342.65Z" fill="#e0880f"/><path d="M152.5 341.73L155 344.23L152.5 346.73L150 344.23Z" fill="#e0880f"/><circle cx="164" cy="317.9" r="2.1" fill="none" stroke="#2f6e4a" stroke-width="1"/><circle cx="171.5" cy="322.85" r="2.1" fill="none" stroke="#2f6e4a" stroke-width="1"/><circle cx="167.5" cy="324.2" r="2.1" fill="none" stroke="#2f6e4a" stroke-width="1"/><circle cx="164.5" cy="329.15" r="2.1" fill="none" stroke="#2f6e4a" stroke-width="1"/><circle cx="171.5" cy="331.85" r="2.1" fill="none" stroke="#2f6e4a" stroke-width="1"/><circle cx="165" cy="335.68" r="2.1" fill="none" stroke="#2f6e4a" stroke-width="1"/><circle cx="171.5" cy="335.68" r="2.1" fill="none" stroke="#2f6e4a" stroke-width="1"/><circle cx="164" cy="339.28" r="2.1" fill="none" stroke="#2f6e4a" stroke-width="1"/><circle cx="171.5" cy="339.28" r="2.1" fill="none" stroke="#2f6e4a" stroke-width="1"/><circle cx="166.5" cy="343.55" r="2.1" fill="none" stroke="#2f6e4a" stroke-width="1"/><circle cx="170" cy="343.55" r="2.1" fill="none" stroke="#2f6e4a" stroke-width="1"/><rect x="182.85" y="329.55" width="3.7" height="3.7" fill="none" stroke="#8c88d0" stroke-width="0.9"/><rect x="186.25" y="329.55" width="3.7" height="3.7" fill="none" stroke="#8c88d0" stroke-width="0.9"/><rect x="191.65" y="329.55" width="3.7" height="3.7" fill="none" stroke="#8c88d0" stroke-width="0.9"/><rect x="182.85" y="336.07" width="3.7" height="3.7" fill="none" stroke="#8c88d0" stroke-width="0.9"/><rect x="190.45" y="333.82" width="3.7" height="3.7" fill="none" stroke="#8c88d0" stroke-width="0.9"/><rect x="182.85" y="340.8" width="3.7" height="3.7" fill="none" stroke="#8c88d0" stroke-width="0.9"/><rect x="191.65" y="340.8" width="3.7" height="3.7" fill="none" stroke="#8c88d0" stroke-width="0.9"/><rect x="187.25" y="344.18" width="3.7" height="3.7" fill="none" stroke="#8c88d0" stroke-width="0.9"/><rect x="185.25" y="343.05" width="3.7" height="3.7" fill="none" stroke="#8c88d0" stroke-width="0.9"/><rect x="189.25" y="343.05" width="3.7" height="3.7" fill="none" stroke="#8c88d0" stroke-width="0.9"/><path d="M210 304.57L212.4 308.79L207.6 308.79Z" fill="none" stroke="#3d4863" stroke-width="1" stroke-linejoin="miter"/><path d="M206.2 311.09L208.6 315.31L203.8 315.31Z" fill="none" stroke="#3d4863" stroke-width="1" stroke-linejoin="miter"/><path d="M213.6 311.09L216 315.31L211.2 315.31Z" fill="none" stroke="#3d4863" stroke-width="1" stroke-linejoin="miter"/><path d="M206 328.64L208.4 332.86L203.6 332.86Z" fill="none" stroke="#3d4863" stroke-width="1" stroke-linejoin="miter"/><path d="M213.8 331.79L216.2 336.01L211.4 336.01Z" fill="none" stroke="#3d4863" stroke-width="1" stroke-linejoin="miter"/><path d="M206.5 342.59L208.9 346.81L204.1 346.81Z" fill="none" stroke="#3d4863" stroke-width="1" stroke-linejoin="miter"/><path d="M210.3 342.59L212.7 346.81L207.9 346.81Z" fill="none" stroke="#3d4863" stroke-width="1" stroke-linejoin="miter"/><path d="M214 342.59L216.4 346.81L211.6 346.81Z" fill="none" stroke="#3d4863" stroke-width="1" stroke-linejoin="miter"/><line x1="61.9" y1="298.1" x2="61.9" y2="327.8" stroke="#1a1a1a" stroke-width="1.1"/><line x1="58.4" y1="298.1" x2="65.4" y2="298.1" stroke="#1a1a1a" stroke-width="1.1"/><line x1="58.4" y1="327.8" x2="65.4" y2="327.8" stroke="#1a1a1a" stroke-width="1.1"/><line x1="55.3" y1="313.18" x2="68.5" y2="313.18" stroke="#1a1a1a" stroke-width="1.3"/><line x1="83.1" y1="289.33" x2="83.1" y2="332.3" stroke="#1a1a1a" stroke-width="1.1"/><line x1="79.6" y1="289.33" x2="86.6" y2="289.33" stroke="#1a1a1a" stroke-width="1.1"/><line x1="79.6" y1="332.3" x2="86.6" y2="332.3" stroke="#1a1a1a" stroke-width="1.1"/><line x1="76.5" y1="311.38" x2="89.7" y2="311.38" stroke="#1a1a1a" stroke-width="1.3"/><line x1="104.3" y1="295.85" x2="104.3" y2="340.62" stroke="#1a1a1a" stroke-width="1.1"/><line x1="100.8" y1="295.85" x2="107.8" y2="295.85" stroke="#1a1a1a" stroke-width="1.1"/><line x1="100.8" y1="340.62" x2="107.8" y2="340.62" stroke="#1a1a1a" stroke-width="1.1"/><line x1="97.7" y1="318.12" x2="110.9" y2="318.12" stroke="#1a1a1a" stroke-width="1.3"/><line x1="125.5" y1="314.98" x2="125.5" y2="339.73" stroke="#1a1a1a" stroke-width="1.1"/><line x1="122" y1="314.98" x2="129" y2="314.98" stroke="#1a1a1a" stroke-width="1.1"/><line x1="122" y1="339.73" x2="129" y2="339.73" stroke="#1a1a1a" stroke-width="1.1"/><line x1="118.9" y1="327.8" x2="132.1" y2="327.8" stroke="#1a1a1a" stroke-width="1.3"/><line x1="146.7" y1="326.45" x2="146.7" y2="344.23" stroke="#1a1a1a" stroke-width="1.1"/><line x1="143.2" y1="326.45" x2="150.2" y2="326.45" stroke="#1a1a1a" stroke-width="1.1"/><line x1="143.2" y1="344.23" x2="150.2" y2="344.23" stroke="#1a1a1a" stroke-width="1.1"/><line x1="140.1" y1="335.68" x2="153.3" y2="335.68" stroke="#1a1a1a" stroke-width="1.3"/><line x1="167.9" y1="323.53" x2="167.9" y2="341.75" stroke="#1a1a1a" stroke-width="1.1"/><line x1="164.4" y1="323.53" x2="171.4" y2="323.53" stroke="#1a1a1a" stroke-width="1.1"/><line x1="164.4" y1="341.75" x2="171.4" y2="341.75" stroke="#1a1a1a" stroke-width="1.1"/><line x1="161.3" y1="332.98" x2="174.5" y2="332.98" stroke="#1a1a1a" stroke-width="1.3"/><line x1="189.1" y1="334.33" x2="189.1" y2="345.12" stroke="#1a1a1a" stroke-width="1.1"/><line x1="185.6" y1="334.33" x2="192.6" y2="334.33" stroke="#1a1a1a" stroke-width="1.1"/><line x1="185.6" y1="345.12" x2="192.6" y2="345.12" stroke="#1a1a1a" stroke-width="1.1"/><line x1="182.5" y1="340.4" x2="195.7" y2="340.4" stroke="#1a1a1a" stroke-width="1.3"/><line x1="210.3" y1="315.88" x2="210.3" y2="346.48" stroke="#1a1a1a" stroke-width="1.1"/><line x1="206.8" y1="315.88" x2="213.8" y2="315.88" stroke="#1a1a1a" stroke-width="1.1"/><line x1="206.8" y1="346.48" x2="213.8" y2="346.48" stroke="#1a1a1a" stroke-width="1.1"/><line x1="203.7" y1="330.95" x2="216.9" y2="330.95" stroke="#1a1a1a" stroke-width="1.3"/><text x="136.2" y="205.8" font-size="10.2" text-anchor="middle">NK cells</text><text transform="translate(29 290) rotate(-90)" font-size="10" text-anchor="middle" textLength="36" lengthAdjust="spacingAndGlyphs">% live cells</text><line x1="61.9" y1="221.3" x2="189.1" y2="221.3" stroke="#1a1a1a" stroke-width="1.2"/><line x1="61.9" y1="216.5" x2="61.9" y2="226.1" stroke="#1a1a1a" stroke-width="1.2"/><line x1="189.1" y1="216.5" x2="189.1" y2="226.1" stroke="#1a1a1a" stroke-width="1.2"/><ellipse cx="122.4" cy="214" rx="1.15" ry="0.95" fill="#222"/><ellipse cx="125.5" cy="214" rx="1.15" ry="0.95" fill="#222"/><ellipse cx="128.6" cy="214" rx="1.15" ry="0.95" fill="#222"/><line x1="61.9" y1="235.9" x2="167.9" y2="235.9" stroke="#1a1a1a" stroke-width="1.2"/><line x1="61.9" y1="231.1" x2="61.9" y2="240.7" stroke="#1a1a1a" stroke-width="1.2"/><line x1="167.9" y1="231.1" x2="167.9" y2="240.7" stroke="#1a1a1a" stroke-width="1.2"/><ellipse cx="114.9" cy="228.6" rx="1.15" ry="0.95" fill="#222"/><line x1="61.9" y1="249.4" x2="146.7" y2="249.4" stroke="#1a1a1a" stroke-width="1.2"/><line x1="61.9" y1="244.6" x2="61.9" y2="254.2" stroke="#1a1a1a" stroke-width="1.2"/><line x1="146.7" y1="244.6" x2="146.7" y2="254.2" stroke="#1a1a1a" stroke-width="1.2"/><ellipse cx="102.75" cy="242.1" rx="1.15" ry="0.95" fill="#222"/><ellipse cx="105.85" cy="242.1" rx="1.15" ry="0.95" fill="#222"/>
<line x1="293.8" y1="348.8" x2="293.8" y2="232.3" stroke="#1a1a1a" stroke-width="1.3"/><line x1="290.8" y1="348.2" x2="293.8" y2="348.2" stroke="#1a1a1a" stroke-width="1.2"/><text x="286.8" y="351.2" font-size="9.38" text-anchor="end" textLength="4.62" lengthAdjust="spacingAndGlyphs">0</text><line x1="290.8" y1="291.75" x2="293.8" y2="291.75" stroke="#1a1a1a" stroke-width="1.2"/><text x="286.8" y="294.75" font-size="9.38" text-anchor="end" textLength="9.23" lengthAdjust="spacingAndGlyphs">50</text><line x1="290.8" y1="235.3" x2="293.8" y2="235.3" stroke="#1a1a1a" stroke-width="1.2"/><text x="286.8" y="238.3" font-size="9.38" text-anchor="end" textLength="13.85" lengthAdjust="spacingAndGlyphs">100</text><line x1="290.8" y1="348.2" x2="463.3" y2="348.2" stroke="#1a1a1a" stroke-width="1.3"/><line x1="304.39" y1="348.2" x2="304.39" y2="351.2" stroke="#1a1a1a" stroke-width="1.2"/><text x="304.39" y="361.9" font-size="9.41" text-anchor="middle" textLength="5.6" lengthAdjust="spacingAndGlyphs">B</text><line x1="325.58" y1="348.2" x2="325.58" y2="351.2" stroke="#1a1a1a" stroke-width="1.2"/><text x="325.58" y="361.9" font-size="9.41" text-anchor="middle" textLength="12.6" lengthAdjust="spacingAndGlyphs">W4</text><line x1="346.77" y1="348.2" x2="346.77" y2="351.2" stroke="#1a1a1a" stroke-width="1.2"/><text x="346.77" y="361.9" font-size="9.41" text-anchor="middle" textLength="17.27" lengthAdjust="spacingAndGlyphs">W16</text><line x1="367.96" y1="348.2" x2="367.96" y2="351.2" stroke="#1a1a1a" stroke-width="1.2"/><text x="367.96" y="361.9" font-size="9.41" text-anchor="middle" textLength="16.34" lengthAdjust="spacingAndGlyphs">12M</text><line x1="389.14" y1="348.2" x2="389.14" y2="351.2" stroke="#1a1a1a" stroke-width="1.2"/><text x="389.14" y="361.9" font-size="9.41" text-anchor="middle" textLength="16.34" lengthAdjust="spacingAndGlyphs">18M</text><line x1="410.33" y1="348.2" x2="410.33" y2="351.2" stroke="#1a1a1a" stroke-width="1.2"/><text x="410.33" y="361.9" font-size="9.41" text-anchor="middle" textLength="16.34" lengthAdjust="spacingAndGlyphs">24M</text><line x1="431.52" y1="348.2" x2="431.52" y2="351.2" stroke="#1a1a1a" stroke-width="1.2"/><text x="431.52" y="361.9" font-size="9.41" text-anchor="middle" textLength="16.34" lengthAdjust="spacingAndGlyphs">36M</text><line x1="452.71" y1="348.2" x2="452.71" y2="351.2" stroke="#1a1a1a" stroke-width="1.2"/><text x="452.71" y="361.9" font-size="9.41" text-anchor="middle" textLength="16.34" lengthAdjust="spacingAndGlyphs">48M</text><rect x="298.79" y="260.2" width="4.4" height="4.4" fill="#ab0027"/><rect x="301.39" y="260.2" width="4.4" height="4.4" fill="#ab0027"/><rect x="303.99" y="260.2" width="4.4" height="4.4" fill="#ab0027"/><rect x="306.39" y="260.2" width="4.4" height="4.4" fill="#ab0027"/><rect x="302.19" y="271.82" width="4.4" height="4.4" fill="#ab0027"/><rect x="302.19" y="286.5" width="4.4" height="4.4" fill="#ab0027"/><rect x="302.19" y="301.29" width="4.4" height="4.4" fill="#ab0027"/><rect x="298.59" y="309.08" width="4.4" height="4.4" fill="#ab0027"/><rect x="306.09" y="305.47" width="4.4" height="4.4" fill="#ab0027"/><rect x="302.19" y="311.9" width="4.4" height="4.4" fill="#ab0027"/><rect x="302.19" y="326.58" width="4.4" height="4.4" fill="#ab0027"/><rect x="302.19" y="334.94" width="4.4" height="4.4" fill="#ab0027"/><rect x="305.59" y="339.23" width="4.4" height="4.4" fill="#ab0027"/><rect x="298.59" y="342.84" width="4.4" height="4.4" fill="#ab0027"/><circle cx="325.58" cy="242.98" r="2.4" fill="#1d3c84"/><circle cx="325.58" cy="264.88" r="2.4" fill="#1d3c84"/><circle cx="325.58" cy="288.14" r="2.4" fill="#1d3c84"/><circle cx="329.28" cy="297.73" r="2.4" fill="#1d3c84"/><circle cx="321.78" cy="302.48" r="2.4" fill="#1d3c84"/><circle cx="329.28" cy="302.48" r="2.4" fill="#1d3c84"/><circle cx="325.58" cy="305.52" r="2.4" fill="#1d3c84"/><circle cx="321.78" cy="311.28" r="2.4" fill="#1d3c84"/><circle cx="329.28" cy="311.28" r="2.4" fill="#1d3c84"/><circle cx="321.78" cy="314.67" r="2.4" fill="#1d3c84"/><circle cx="329.28" cy="317.15" r="2.4" fill="#1d3c84"/><circle cx="325.58" cy="322.46" r="2.4" fill="#1d3c84"/><circle cx="329.28" cy="341.43" r="2.4" fill="#1d3c84"/><circle cx="321.78" cy="347.75" r="2.4" fill="#1d3c84"/><path d="M346.77 238.14L349.37 242.82L344.17 242.82Z" fill="#5aab32"/><path d="M346.77 253.27L349.37 257.95L344.17 257.95Z" fill="#5aab32"/><path d="M343.27 282.73L345.87 287.41L340.67 287.41Z" fill="#5aab32"/><path d="M350.27 288.6L352.87 293.28L347.67 293.28Z" fill="#5aab32"/><path d="M343.27 293.8L345.87 298.48L340.67 298.48Z" fill="#5aab32"/><path d="M350.27 295.83L352.87 300.51L347.67 300.51Z" fill="#5aab32"/><path d="M343.27 313.33L345.87 318.01L340.67 318.01Z" fill="#5aab32"/><path d="M350.27 313.33L352.87 318.01L347.67 318.01Z" fill="#5aab32"/><path d="M346.77 316.49L349.37 321.17L344.17 321.17Z" fill="#5aab32"/><path d="M343.27 318.52L345.87 323.2L340.67 323.2Z" fill="#5aab32"/><path d="M346.77 318.52L349.37 323.2L344.17 323.2Z" fill="#5aab32"/><path d="M343.27 342.23L345.87 346.91L340.67 346.91Z" fill="#5aab32"/><path d="M350.27 341.44L352.87 346.12L347.67 346.12Z" fill="#5aab32"/><path d="M364.46 242.74L367.06 238.06L361.86 238.06Z" fill="#4b1a66"/><path d="M371.66 242.4L374.26 237.72L369.06 237.72Z" fill="#4b1a66"/><path d="M372.06 247.7L374.66 243.02L369.46 243.02Z" fill="#4b1a66"/><path d="M364.16 250.08L366.76 245.4L361.56 245.4Z" fill="#4b1a66"/><path d="M366.76 251.99L369.36 247.31L364.16 247.31Z" fill="#4b1a66"/><path d="M369.26 251.99L371.86 247.31L366.66 247.31Z" fill="#4b1a66"/><path d="M367.36 254.37L369.96 249.69L364.76 249.69Z" fill="#4b1a66"/><path d="M371.66 258.09L374.26 253.41L369.06 253.41Z" fill="#4b1a66"/><path d="M364.46 262.38L367.06 257.7L361.86 257.7Z" fill="#4b1a66"/><path d="M367.96 287.33L370.56 282.65L365.36 282.65Z" fill="#4b1a66"/><path d="M367.96 326.28L370.56 321.6L365.36 321.6Z" fill="#4b1a66"/><path d="M389.14 250.41L391.64 252.91L389.14 255.41L386.64 252.91Z" fill="#e0880f"/><path d="M384.84 257.86L387.34 260.36L384.84 262.86L382.34 260.36Z" fill="#e0880f"/><path d="M392.84 257.86L395.34 260.36L392.84 262.86L390.34 260.36Z" fill="#e0880f"/><path d="M389.14 262.04L391.64 264.54L389.14 267.04L386.64 264.54Z" fill="#e0880f"/><path d="M391.84 263.73L394.34 266.23L391.84 268.73L389.34 266.23Z" fill="#e0880f"/><path d="M384.84 270.4L387.34 272.9L384.84 275.4L382.34 272.9Z" fill="#e0880f"/><path d="M392.34 268.7L394.84 271.2L392.34 273.7L389.84 271.2Z" fill="#e0880f"/><path d="M384.84 280.56L387.34 283.06L384.84 285.56L382.34 283.06Z" fill="#e0880f"/><path d="M392.34 282.02L394.84 284.52L392.34 287.02L389.84 284.52Z" fill="#e0880f"/><path d="M384.84 300.99L387.34 303.49L384.84 305.99L382.34 303.49Z" fill="#e0880f"/><path d="M392.34 300.99L394.84 303.49L392.34 305.99L389.84 303.49Z" fill="#e0880f"/><path d="M389.14 309.35L391.64 311.85L389.14 314.35L386.64 311.85Z" fill="#e0880f"/><path d="M389.14 316.35L391.64 318.85L389.14 321.35L386.64 318.85Z" fill="#e0880f"/><circle cx="410.33" cy="243.77" r="2.1" fill="none" stroke="#2f6e4a" stroke-width="1"/><circle cx="406.83" cy="257.09" r="2.1" fill="none" stroke="#2f6e4a" stroke-width="1"/><circle cx="413.83" cy="254.38" r="2.1" fill="none" stroke="#2f6e4a" stroke-width="1"/><circle cx="406.83" cy="262.06" r="2.1" fill="none" stroke="#2f6e4a" stroke-width="1"/><circle cx="413.83" cy="261.27" r="2.1" fill="none" stroke="#2f6e4a" stroke-width="1"/><circle cx="406.83" cy="265.56" r="2.1" fill="none" stroke="#2f6e4a" stroke-width="1"/><circle cx="410.83" cy="265.78" r="2.1" fill="none" stroke="#2f6e4a" stroke-width="1"/><circle cx="413.83" cy="270.41" r="2.1" fill="none" stroke="#2f6e4a" stroke-width="1"/><circle cx="406.83" cy="275.04" r="2.1" fill="none" stroke="#2f6e4a" stroke-width="1"/><circle cx="410.83" cy="278.2" r="2.1" fill="none" stroke="#2f6e4a" stroke-width="1"/><circle cx="413.83" cy="279.22" r="2.1" fill="none" stroke="#2f6e4a" stroke-width="1"/><circle cx="406.83" cy="292.99" r="2.1" fill="none" stroke="#2f6e4a" stroke-width="1"/><circle cx="413.83" cy="297.17" r="2.1" fill="none" stroke="#2f6e4a" stroke-width="1"/><circle cx="410.33" cy="311.28" r="2.1" fill="none" stroke="#2f6e4a" stroke-width="1"/><rect x="426.07" y="247.45" width="3.7" height="3.7" fill="none" stroke="#8c88d0" stroke-width="0.9"/><rect x="433.07" y="252.53" width="3.7" height="3.7" fill="none" stroke="#8c88d0" stroke-width="0.9"/><rect x="433.07" y="267.88" width="3.7" height="3.7" fill="none" stroke="#8c88d0" stroke-width="0.9"/><rect x="426.07" y="270.03" width="3.7" height="3.7" fill="none" stroke="#8c88d0" stroke-width="0.9"/><rect x="426.07" y="281.21" width="3.7" height="3.7" fill="none" stroke="#8c88d0" stroke-width="0.9"/><rect x="433.07" y="283.24" width="3.7" height="3.7" fill="none" stroke="#8c88d0" stroke-width="0.9"/><rect x="429.67" y="295.32" width="3.7" height="3.7" fill="none" stroke="#8c88d0" stroke-width="0.9"/><rect x="429.67" y="306.95" width="3.7" height="3.7" fill="none" stroke="#8c88d0" stroke-width="0.9"/><rect x="433.07" y="319.48" width="3.7" height="3.7" fill="none" stroke="#8c88d0" stroke-width="0.9"/><rect x="426.07" y="325.8" width="3.7" height="3.7" fill="none" stroke="#8c88d0" stroke-width="0.9"/><path d="M448.01 240.45L450.41 244.67L445.61 244.67Z" fill="none" stroke="#3d4863" stroke-width="1" stroke-linejoin="miter"/><path d="M456.01 240.45L458.41 244.67L453.61 244.67Z" fill="none" stroke="#3d4863" stroke-width="1" stroke-linejoin="miter"/><path d="M448.01 262.01L450.41 266.23L445.61 266.23Z" fill="none" stroke="#3d4863" stroke-width="1" stroke-linejoin="miter"/><path d="M456.01 264.49L458.41 268.71L453.61 268.71Z" fill="none" stroke="#3d4863" stroke-width="1" stroke-linejoin="miter"/><path d="M452.71 272.96L455.11 277.18L450.31 277.18Z" fill="none" stroke="#3d4863" stroke-width="1" stroke-linejoin="miter"/><path d="M452.71 305.14L455.11 309.36L450.31 309.36Z" fill="none" stroke="#3d4863" stroke-width="1" stroke-linejoin="miter"/><path d="M452.71 330.43L455.11 334.65L450.31 334.65Z" fill="none" stroke="#3d4863" stroke-width="1" stroke-linejoin="miter"/><line x1="304.39" y1="272.9" x2="304.39" y2="333.64" stroke="#1a1a1a" stroke-width="1.1"/><line x1="300.89" y1="272.9" x2="307.89" y2="272.9" stroke="#1a1a1a" stroke-width="1.1"/><line x1="300.89" y1="333.64" x2="307.89" y2="333.64" stroke="#1a1a1a" stroke-width="1.1"/><line x1="297.79" y1="303.49" x2="310.99" y2="303.49" stroke="#1a1a1a" stroke-width="1.3"/><line x1="325.58" y1="277.52" x2="325.58" y2="334.09" stroke="#1a1a1a" stroke-width="1.1"/><line x1="322.08" y1="277.52" x2="329.08" y2="277.52" stroke="#1a1a1a" stroke-width="1.1"/><line x1="322.08" y1="334.09" x2="329.08" y2="334.09" stroke="#1a1a1a" stroke-width="1.1"/><line x1="318.98" y1="305.52" x2="332.18" y2="305.52" stroke="#1a1a1a" stroke-width="1.3"/><line x1="346.77" y1="274.48" x2="346.77" y2="332.96" stroke="#1a1a1a" stroke-width="1.1"/><line x1="343.27" y1="274.48" x2="350.27" y2="274.48" stroke="#1a1a1a" stroke-width="1.1"/><line x1="343.27" y1="332.96" x2="350.27" y2="332.96" stroke="#1a1a1a" stroke-width="1.1"/><line x1="340.17" y1="303.49" x2="353.37" y2="303.49" stroke="#1a1a1a" stroke-width="1.3"/><line x1="367.96" y1="235.3" x2="367.96" y2="280.91" stroke="#1a1a1a" stroke-width="1.1"/><line x1="364.46" y1="235.3" x2="371.46" y2="235.3" stroke="#1a1a1a" stroke-width="1.1"/><line x1="364.46" y1="280.91" x2="371.46" y2="280.91" stroke="#1a1a1a" stroke-width="1.1"/><line x1="361.36" y1="258.11" x2="374.56" y2="258.11" stroke="#1a1a1a" stroke-width="1.3"/><line x1="389.14" y1="259.23" x2="389.14" y2="302.81" stroke="#1a1a1a" stroke-width="1.1"/><line x1="385.64" y1="259.23" x2="392.64" y2="259.23" stroke="#1a1a1a" stroke-width="1.1"/><line x1="385.64" y1="302.81" x2="392.64" y2="302.81" stroke="#1a1a1a" stroke-width="1.1"/><line x1="382.54" y1="280.91" x2="395.74" y2="280.91" stroke="#1a1a1a" stroke-width="1.3"/><line x1="410.33" y1="254.04" x2="410.33" y2="292.99" stroke="#1a1a1a" stroke-width="1.1"/><line x1="406.83" y1="254.04" x2="413.83" y2="254.04" stroke="#1a1a1a" stroke-width="1.1"/><line x1="406.83" y1="292.99" x2="413.83" y2="292.99" stroke="#1a1a1a" stroke-width="1.1"/><line x1="403.73" y1="274.02" x2="416.93" y2="274.02" stroke="#1a1a1a" stroke-width="1.3"/><line x1="431.52" y1="260.36" x2="431.52" y2="314.1" stroke="#1a1a1a" stroke-width="1.1"/><line x1="428.02" y1="260.36" x2="435.02" y2="260.36" stroke="#1a1a1a" stroke-width="1.1"/><line x1="428.02" y1="314.1" x2="435.02" y2="314.1" stroke="#1a1a1a" stroke-width="1.1"/><line x1="424.92" y1="286.67" x2="438.12" y2="286.67" stroke="#1a1a1a" stroke-width="1.3"/><line x1="452.71" y1="242.98" x2="452.71" y2="307.67" stroke="#1a1a1a" stroke-width="1.1"/><line x1="449.21" y1="242.98" x2="456.21" y2="242.98" stroke="#1a1a1a" stroke-width="1.1"/><line x1="449.21" y1="307.67" x2="456.21" y2="307.67" stroke="#1a1a1a" stroke-width="1.1"/><line x1="446.11" y1="275.49" x2="459.31" y2="275.49" stroke="#1a1a1a" stroke-width="1.3"/><text x="378.5" y="216.2" font-size="10.45" text-anchor="middle">CD16+ NK cells</text><text transform="translate(266.5 289.3) rotate(-90)" font-size="10" text-anchor="middle" textLength="50.6" lengthAdjust="spacingAndGlyphs">% total NK cells</text><line x1="304.39" y1="231.4" x2="367.96" y2="231.4" stroke="#1a1a1a" stroke-width="1.2"/><line x1="304.39" y1="226.6" x2="304.39" y2="236.2" stroke="#1a1a1a" stroke-width="1.2"/><line x1="367.96" y1="226.6" x2="367.96" y2="236.2" stroke="#1a1a1a" stroke-width="1.2"/><ellipse cx="333.07" cy="224.1" rx="1.15" ry="0.95" fill="#222"/><ellipse cx="336.18" cy="224.1" rx="1.15" ry="0.95" fill="#222"/><ellipse cx="339.27" cy="224.1" rx="1.15" ry="0.95" fill="#222"/>
<line x1="50.9" y1="523" x2="50.9" y2="406.2" stroke="#1a1a1a" stroke-width="1.3"/><line x1="47.9" y1="522.4" x2="50.9" y2="522.4" stroke="#1a1a1a" stroke-width="1.2"/><text x="43.9" y="525.4" font-size="9.38" text-anchor="end" textLength="4.62" lengthAdjust="spacingAndGlyphs">0</text><line x1="47.9" y1="494.1" x2="50.9" y2="494.1" stroke="#1a1a1a" stroke-width="1.2"/><text x="43.9" y="497.1" font-size="9.38" text-anchor="end" textLength="4.62" lengthAdjust="spacingAndGlyphs">5</text><line x1="47.9" y1="465.8" x2="50.9" y2="465.8" stroke="#1a1a1a" stroke-width="1.2"/><text x="43.9" y="468.8" font-size="9.38" text-anchor="end" textLength="9.23" lengthAdjust="spacingAndGlyphs">10</text><line x1="47.9" y1="437.5" x2="50.9" y2="437.5" stroke="#1a1a1a" stroke-width="1.2"/><text x="43.9" y="440.5" font-size="9.38" text-anchor="end" textLength="9.23" lengthAdjust="spacingAndGlyphs">15</text><line x1="47.9" y1="409.2" x2="50.9" y2="409.2" stroke="#1a1a1a" stroke-width="1.2"/><text x="43.9" y="412.2" font-size="9.38" text-anchor="end" textLength="9.23" lengthAdjust="spacingAndGlyphs">20</text><line x1="47.9" y1="522.4" x2="220.9" y2="522.4" stroke="#1a1a1a" stroke-width="1.3"/><line x1="61.52" y1="522.4" x2="61.52" y2="525.4" stroke="#1a1a1a" stroke-width="1.2"/><text x="61.52" y="535.8" font-size="9.41" text-anchor="middle" textLength="5.6" lengthAdjust="spacingAndGlyphs">B</text><line x1="82.78" y1="522.4" x2="82.78" y2="525.4" stroke="#1a1a1a" stroke-width="1.2"/><text x="82.78" y="535.8" font-size="9.41" text-anchor="middle" textLength="12.6" lengthAdjust="spacingAndGlyphs">W4</text><line x1="104.03" y1="522.4" x2="104.03" y2="525.4" stroke="#1a1a1a" stroke-width="1.2"/><text x="104.03" y="535.8" font-size="9.41" text-anchor="middle" textLength="17.27" lengthAdjust="spacingAndGlyphs">W16</text><line x1="125.28" y1="522.4" x2="125.28" y2="525.4" stroke="#1a1a1a" stroke-width="1.2"/><text x="125.28" y="535.8" font-size="9.41" text-anchor="middle" textLength="16.34" lengthAdjust="spacingAndGlyphs">12M</text><line x1="146.53" y1="522.4" x2="146.53" y2="525.4" stroke="#1a1a1a" stroke-width="1.2"/><text x="146.53" y="535.8" font-size="9.41" text-anchor="middle" textLength="16.34" lengthAdjust="spacingAndGlyphs">18M</text><line x1="167.78" y1="522.4" x2="167.78" y2="525.4" stroke="#1a1a1a" stroke-width="1.2"/><text x="167.78" y="535.8" font-size="9.41" text-anchor="middle" textLength="16.34" lengthAdjust="spacingAndGlyphs">24M</text><line x1="189.03" y1="522.4" x2="189.03" y2="525.4" stroke="#1a1a1a" stroke-width="1.2"/><text x="189.03" y="535.8" font-size="9.41" text-anchor="middle" textLength="16.34" lengthAdjust="spacingAndGlyphs">36M</text><line x1="210.28" y1="522.4" x2="210.28" y2="525.4" stroke="#1a1a1a" stroke-width="1.2"/><text x="210.28" y="535.8" font-size="9.41" text-anchor="middle" textLength="16.34" lengthAdjust="spacingAndGlyphs">48M</text><rect x="59.32" y="456.24" width="4.4" height="4.4" fill="#ab0027"/><rect x="59.32" y="494.16" width="4.4" height="4.4" fill="#ab0027"/><rect x="55.82" y="499.26" width="4.4" height="4.4" fill="#ab0027"/><rect x="62.83" y="500.96" width="4.4" height="4.4" fill="#ab0027"/><rect x="55.82" y="504.35" width="4.4" height="4.4" fill="#ab0027"/><rect x="62.83" y="504.35" width="4.4" height="4.4" fill="#ab0027"/><rect x="56.32" y="507.75" width="4.4" height="4.4" fill="#ab0027"/><rect x="61.83" y="507.75" width="4.4" height="4.4" fill="#ab0027"/><rect x="56.32" y="511.14" width="4.4" height="4.4" fill="#ab0027"/><rect x="62.33" y="511.14" width="4.4" height="4.4" fill="#ab0027"/><rect x="59.32" y="513.97" width="4.4" height="4.4" fill="#ab0027"/><rect x="56.32" y="516.8" width="4.4" height="4.4" fill="#ab0027"/><rect x="61.83" y="516.8" width="4.4" height="4.4" fill="#ab0027"/><rect x="59.32" y="519.07" width="4.4" height="4.4" fill="#ab0027"/><circle cx="82.78" cy="453.35" r="2.4" fill="#1d3c84"/><circle cx="82.78" cy="464.1" r="2.4" fill="#1d3c84"/><circle cx="86.48" cy="490.7" r="2.4" fill="#1d3c84"/><circle cx="78.98" cy="494.1" r="2.4" fill="#1d3c84"/><circle cx="78.98" cy="503.16" r="2.4" fill="#1d3c84"/><circle cx="86.48" cy="502.59" r="2.4" fill="#1d3c84"/><circle cx="82.78" cy="506.55" r="2.4" fill="#1d3c84"/><circle cx="78.98" cy="509.38" r="2.4" fill="#1d3c84"/><circle cx="86.48" cy="510.51" r="2.4" fill="#1d3c84"/><circle cx="78.98" cy="515.04" r="2.4" fill="#1d3c84"/><circle cx="82.78" cy="516.74" r="2.4" fill="#1d3c84"/><circle cx="86.48" cy="515.04" r="2.4" fill="#1d3c84"/><circle cx="79.98" cy="519" r="2.4" fill="#1d3c84"/><circle cx="84.98" cy="519" r="2.4" fill="#1d3c84"/><path d="M104.03 464.69L106.62 469.37L101.43 469.37Z" fill="#5aab32"/><path d="M104.03 472.05L106.62 476.73L101.43 476.73Z" fill="#5aab32"/><path d="M100.03 486.2L102.62 490.88L97.43 490.88Z" fill="#5aab32"/><path d="M107.53 487.9L110.12 492.58L104.93 492.58Z" fill="#5aab32"/><path d="M100.53 496.95L103.12 501.63L97.93 501.63Z" fill="#5aab32"/><path d="M107.53 498.08L110.12 502.76L104.93 502.76Z" fill="#5aab32"/><path d="M100.53 507.14L103.12 511.82L97.93 511.82Z" fill="#5aab32"/><path d="M104.03 511.67L106.62 516.35L101.43 516.35Z" fill="#5aab32"/><path d="M108.03 511.1L110.62 515.78L105.43 515.78Z" fill="#5aab32"/><path d="M100.53 512.23L103.12 516.91L97.93 516.91Z" fill="#5aab32"/><path d="M104.03 517.61L106.62 522.29L101.43 522.29Z" fill="#5aab32"/><path d="M110.03 510.54L112.62 515.22L107.43 515.22Z" fill="#5aab32"/><path d="M121.38 466.91L123.97 462.23L118.78 462.23Z" fill="#4b1a66"/><path d="M128.88 462.95L131.47 458.27L126.28 458.27Z" fill="#4b1a66"/><path d="M121.38 485.02L123.97 480.34L118.78 480.34Z" fill="#4b1a66"/><path d="M128.88 490.12L131.47 485.44L126.28 485.44Z" fill="#4b1a66"/><path d="M121.38 506.53L123.97 501.85L118.78 501.85Z" fill="#4b1a66"/><path d="M128.88 504.27L131.47 499.59L126.28 499.59Z" fill="#4b1a66"/><path d="M125.28 508.23L127.88 503.55L122.68 503.55Z" fill="#4b1a66"/><path d="M121.38 512.76L123.97 508.08L118.78 508.08Z" fill="#4b1a66"/><path d="M128.88 513.89L131.47 509.21L126.28 509.21Z" fill="#4b1a66"/><path d="M125.28 513.32L127.88 508.64L122.68 508.64Z" fill="#4b1a66"/><path d="M128.88 518.98L131.47 514.3L126.28 514.3Z" fill="#4b1a66"/><path d="M121.38 522.38L123.97 517.7L118.78 517.7Z" fill="#4b1a66"/><path d="M146.53 425.38L149.03 427.88L146.53 430.38L144.03 427.88Z" fill="#e0880f"/><path d="M146.53 435.57L149.03 438.07L146.53 440.57L144.03 438.07Z" fill="#e0880f"/><path d="M149.93 464.43L152.43 466.93L149.93 469.43L147.43 466.93Z" fill="#e0880f"/><path d="M142.93 467.26L145.43 469.76L142.93 472.26L140.43 469.76Z" fill="#e0880f"/><path d="M149.93 478.58L152.43 481.08L149.93 483.58L147.43 481.08Z" fill="#e0880f"/><path d="M142.93 483.11L145.43 485.61L142.93 488.11L140.43 485.61Z" fill="#e0880f"/><path d="M146.53 496.69L149.03 499.19L146.53 501.69L144.03 499.19Z" fill="#e0880f"/><path d="M142.93 504.62L145.43 507.12L142.93 509.62L140.43 507.12Z" fill="#e0880f"/><path d="M149.93 502.92L152.43 505.42L149.93 507.92L147.43 505.42Z" fill="#e0880f"/><path d="M146.53 506.88L149.03 509.38L146.53 511.88L144.03 509.38Z" fill="#e0880f"/><path d="M142.93 511.41L145.43 513.91L142.93 516.41L140.43 513.91Z" fill="#e0880f"/><path d="M149.93 511.41L152.43 513.91L149.93 516.41L147.43 513.91Z" fill="#e0880f"/><path d="M146.53 517.07L149.03 519.57L146.53 522.07L144.03 519.57Z" fill="#e0880f"/><circle cx="167.78" cy="432.41" r="2.1" fill="none" stroke="#2f6e4a" stroke-width="1"/><circle cx="167.78" cy="463.54" r="2.1" fill="none" stroke="#2f6e4a" stroke-width="1"/><circle cx="163.88" cy="473.16" r="2.1" fill="none" stroke="#2f6e4a" stroke-width="1"/><circle cx="173.88" cy="473.72" r="2.1" fill="none" stroke="#2f6e4a" stroke-width="1"/><circle cx="170.88" cy="479.38" r="2.1" fill="none" stroke="#2f6e4a" stroke-width="1"/><circle cx="163.88" cy="483.35" r="2.1" fill="none" stroke="#2f6e4a" stroke-width="1"/><circle cx="167.78" cy="493.53" r="2.1" fill="none" stroke="#2f6e4a" stroke-width="1"/><circle cx="167.78" cy="502.02" r="2.1" fill="none" stroke="#2f6e4a" stroke-width="1"/><circle cx="163.88" cy="505.42" r="2.1" fill="none" stroke="#2f6e4a" stroke-width="1"/><circle cx="170.88" cy="511.08" r="2.1" fill="none" stroke="#2f6e4a" stroke-width="1"/><circle cx="167.78" cy="519.57" r="2.1" fill="none" stroke="#2f6e4a" stroke-width="1"/><rect x="190.27" y="436.22" width="3.7" height="3.7" fill="none" stroke="#8c88d0" stroke-width="0.9"/><rect x="183.77" y="441.88" width="3.7" height="3.7" fill="none" stroke="#8c88d0" stroke-width="0.9"/><rect x="187.17" y="458.86" width="3.7" height="3.7" fill="none" stroke="#8c88d0" stroke-width="0.9"/><rect x="187.17" y="467.91" width="3.7" height="3.7" fill="none" stroke="#8c88d0" stroke-width="0.9"/><rect x="183.77" y="483.76" width="3.7" height="3.7" fill="none" stroke="#8c88d0" stroke-width="0.9"/><rect x="193.27" y="488.29" width="3.7" height="3.7" fill="none" stroke="#8c88d0" stroke-width="0.9"/><rect x="189.27" y="489.99" width="3.7" height="3.7" fill="none" stroke="#8c88d0" stroke-width="0.9"/><rect x="183.77" y="496.78" width="3.7" height="3.7" fill="none" stroke="#8c88d0" stroke-width="0.9"/><rect x="187.17" y="503.57" width="3.7" height="3.7" fill="none" stroke="#8c88d0" stroke-width="0.9"/><rect x="187.17" y="514.89" width="3.7" height="3.7" fill="none" stroke="#8c88d0" stroke-width="0.9"/><path d="M210.28 434.4L212.68 438.62L207.88 438.62Z" fill="none" stroke="#3d4863" stroke-width="1" stroke-linejoin="miter"/><path d="M206.08 459.87L208.48 464.09L203.68 464.09Z" fill="none" stroke="#3d4863" stroke-width="1" stroke-linejoin="miter"/><path d="M214.08 457.61L216.48 461.83L211.68 461.83Z" fill="none" stroke="#3d4863" stroke-width="1" stroke-linejoin="miter"/><path d="M206.08 485.34L208.48 489.56L203.68 489.56Z" fill="none" stroke="#3d4863" stroke-width="1" stroke-linejoin="miter"/><path d="M214.08 485.91L216.48 490.13L211.68 490.13Z" fill="none" stroke="#3d4863" stroke-width="1" stroke-linejoin="miter"/><path d="M214.08 501.19L216.48 505.41L211.68 505.41Z" fill="none" stroke="#3d4863" stroke-width="1" stroke-linejoin="miter"/><path d="M206.08 506.28L208.48 510.5L203.68 510.5Z" fill="none" stroke="#3d4863" stroke-width="1" stroke-linejoin="miter"/><line x1="61.52" y1="490.7" x2="61.52" y2="521.27" stroke="#1a1a1a" stroke-width="1.1"/><line x1="58.02" y1="490.7" x2="65.03" y2="490.7" stroke="#1a1a1a" stroke-width="1.1"/><line x1="58.02" y1="521.27" x2="65.03" y2="521.27" stroke="#1a1a1a" stroke-width="1.1"/><line x1="54.92" y1="505.99" x2="68.12" y2="505.99" stroke="#1a1a1a" stroke-width="1.3"/><line x1="82.78" y1="482.5" x2="82.78" y2="522.4" stroke="#1a1a1a" stroke-width="1.1"/><line x1="79.28" y1="482.5" x2="86.28" y2="482.5" stroke="#1a1a1a" stroke-width="1.1"/><line x1="79.28" y1="522.4" x2="86.28" y2="522.4" stroke="#1a1a1a" stroke-width="1.1"/><line x1="76.18" y1="502.59" x2="89.38" y2="502.59" stroke="#1a1a1a" stroke-width="1.3"/><line x1="104.03" y1="486.74" x2="104.03" y2="519.57" stroke="#1a1a1a" stroke-width="1.1"/><line x1="100.53" y1="486.74" x2="107.53" y2="486.74" stroke="#1a1a1a" stroke-width="1.1"/><line x1="100.53" y1="519.57" x2="107.53" y2="519.57" stroke="#1a1a1a" stroke-width="1.1"/><line x1="97.43" y1="503.16" x2="110.62" y2="503.16" stroke="#1a1a1a" stroke-width="1.3"/><line x1="125.28" y1="479.38" x2="125.28" y2="518.44" stroke="#1a1a1a" stroke-width="1.1"/><line x1="121.78" y1="479.38" x2="128.78" y2="479.38" stroke="#1a1a1a" stroke-width="1.1"/><line x1="121.78" y1="518.44" x2="128.78" y2="518.44" stroke="#1a1a1a" stroke-width="1.1"/><line x1="118.68" y1="499.19" x2="131.88" y2="499.19" stroke="#1a1a1a" stroke-width="1.3"/><line x1="146.53" y1="459.01" x2="146.53" y2="515.32" stroke="#1a1a1a" stroke-width="1.1"/><line x1="143.03" y1="459.01" x2="150.03" y2="459.01" stroke="#1a1a1a" stroke-width="1.1"/><line x1="143.03" y1="515.32" x2="150.03" y2="515.32" stroke="#1a1a1a" stroke-width="1.1"/><line x1="139.93" y1="487.31" x2="153.12" y2="487.31" stroke="#1a1a1a" stroke-width="1.3"/><line x1="167.78" y1="460.14" x2="167.78" y2="509.38" stroke="#1a1a1a" stroke-width="1.1"/><line x1="164.28" y1="460.14" x2="171.28" y2="460.14" stroke="#1a1a1a" stroke-width="1.1"/><line x1="164.28" y1="509.38" x2="171.28" y2="509.38" stroke="#1a1a1a" stroke-width="1.1"/><line x1="161.18" y1="485.04" x2="174.38" y2="485.04" stroke="#1a1a1a" stroke-width="1.3"/><line x1="189.03" y1="453.91" x2="189.03" y2="505.99" stroke="#1a1a1a" stroke-width="1.1"/><line x1="185.53" y1="453.91" x2="192.53" y2="453.91" stroke="#1a1a1a" stroke-width="1.1"/><line x1="185.53" y1="505.99" x2="192.53" y2="505.99" stroke="#1a1a1a" stroke-width="1.1"/><line x1="182.43" y1="480.52" x2="195.62" y2="480.52" stroke="#1a1a1a" stroke-width="1.3"/><line x1="210.28" y1="452.22" x2="210.28" y2="504.29" stroke="#1a1a1a" stroke-width="1.1"/><line x1="206.78" y1="452.22" x2="213.78" y2="452.22" stroke="#1a1a1a" stroke-width="1.1"/><line x1="206.78" y1="504.29" x2="213.78" y2="504.29" stroke="#1a1a1a" stroke-width="1.1"/><line x1="203.68" y1="478.25" x2="216.88" y2="478.25" stroke="#1a1a1a" stroke-width="1.3"/><text x="136.5" y="389.6" font-size="9.8" text-anchor="middle">γδ T cells</text><text transform="translate(28 465) rotate(-90)" font-size="10" text-anchor="middle" textLength="45" lengthAdjust="spacingAndGlyphs">% total T cells</text><line x1="61.52" y1="405.8" x2="210.28" y2="405.8" stroke="#1a1a1a" stroke-width="1.2"/><line x1="61.52" y1="401" x2="61.52" y2="410.6" stroke="#1a1a1a" stroke-width="1.2"/><line x1="210.28" y1="401" x2="210.28" y2="410.6" stroke="#1a1a1a" stroke-width="1.2"/><ellipse cx="135.9" cy="398.5" rx="1.15" ry="0.95" fill="#222"/><line x1="61.52" y1="420" x2="189.03" y2="420" stroke="#1a1a1a" stroke-width="1.2"/><line x1="61.52" y1="415.2" x2="61.52" y2="424.8" stroke="#1a1a1a" stroke-width="1.2"/><line x1="189.03" y1="415.2" x2="189.03" y2="424.8" stroke="#1a1a1a" stroke-width="1.2"/><ellipse cx="125.28" cy="412.7" rx="1.15" ry="0.95" fill="#222"/>
<line x1="294" y1="523" x2="294" y2="409.1" stroke="#1a1a1a" stroke-width="1.3"/><line x1="291" y1="522.4" x2="294" y2="522.4" stroke="#1a1a1a" stroke-width="1.2"/><text x="287" y="525.4" font-size="9.38" text-anchor="end" textLength="4.62" lengthAdjust="spacingAndGlyphs">0</text><line x1="291" y1="500.34" x2="294" y2="500.34" stroke="#1a1a1a" stroke-width="1.2"/><text x="287" y="503.34" font-size="9.38" text-anchor="end" textLength="9.23" lengthAdjust="spacingAndGlyphs">10</text><line x1="291" y1="478.28" x2="294" y2="478.28" stroke="#1a1a1a" stroke-width="1.2"/><text x="287" y="481.28" font-size="9.38" text-anchor="end" textLength="9.23" lengthAdjust="spacingAndGlyphs">20</text><line x1="291" y1="456.22" x2="294" y2="456.22" stroke="#1a1a1a" stroke-width="1.2"/><text x="287" y="459.22" font-size="9.38" text-anchor="end" textLength="9.23" lengthAdjust="spacingAndGlyphs">30</text><line x1="291" y1="434.16" x2="294" y2="434.16" stroke="#1a1a1a" stroke-width="1.2"/><text x="287" y="437.16" font-size="9.38" text-anchor="end" textLength="9.23" lengthAdjust="spacingAndGlyphs">40</text><line x1="291" y1="412.1" x2="294" y2="412.1" stroke="#1a1a1a" stroke-width="1.2"/><text x="287" y="415.1" font-size="9.38" text-anchor="end" textLength="9.23" lengthAdjust="spacingAndGlyphs">50</text><line x1="291" y1="522.4" x2="458.8" y2="522.4" stroke="#1a1a1a" stroke-width="1.3"/><line x1="304.3" y1="522.4" x2="304.3" y2="525.4" stroke="#1a1a1a" stroke-width="1.2"/><text x="304.3" y="535.8" font-size="9.41" text-anchor="middle" textLength="5.6" lengthAdjust="spacingAndGlyphs">B</text><line x1="324.9" y1="522.4" x2="324.9" y2="525.4" stroke="#1a1a1a" stroke-width="1.2"/><text x="324.9" y="535.8" font-size="9.41" text-anchor="middle" textLength="12.6" lengthAdjust="spacingAndGlyphs">W4</text><line x1="345.5" y1="522.4" x2="345.5" y2="525.4" stroke="#1a1a1a" stroke-width="1.2"/><text x="345.5" y="535.8" font-size="9.41" text-anchor="middle" textLength="17.27" lengthAdjust="spacingAndGlyphs">W16</text><line x1="366.1" y1="522.4" x2="366.1" y2="525.4" stroke="#1a1a1a" stroke-width="1.2"/><text x="366.1" y="535.8" font-size="9.41" text-anchor="middle" textLength="16.34" lengthAdjust="spacingAndGlyphs">12M</text><line x1="386.7" y1="522.4" x2="386.7" y2="525.4" stroke="#1a1a1a" stroke-width="1.2"/><text x="386.7" y="535.8" font-size="9.41" text-anchor="middle" textLength="16.34" lengthAdjust="spacingAndGlyphs">18M</text><line x1="407.3" y1="522.4" x2="407.3" y2="525.4" stroke="#1a1a1a" stroke-width="1.2"/><text x="407.3" y="535.8" font-size="9.41" text-anchor="middle" textLength="16.34" lengthAdjust="spacingAndGlyphs">24M</text><line x1="427.9" y1="522.4" x2="427.9" y2="525.4" stroke="#1a1a1a" stroke-width="1.2"/><text x="427.9" y="535.8" font-size="9.41" text-anchor="middle" textLength="16.34" lengthAdjust="spacingAndGlyphs">36M</text><line x1="448.5" y1="522.4" x2="448.5" y2="525.4" stroke="#1a1a1a" stroke-width="1.2"/><text x="448.5" y="535.8" font-size="9.41" text-anchor="middle" textLength="16.34" lengthAdjust="spacingAndGlyphs">48M</text><rect x="302.1" y="457.55" width="4.4" height="4.4" fill="#ab0027"/><rect x="298.7" y="476.08" width="4.4" height="4.4" fill="#ab0027"/><rect x="305.2" y="478.73" width="4.4" height="4.4" fill="#ab0027"/><rect x="302.1" y="492.4" width="4.4" height="4.4" fill="#ab0027"/><rect x="302.1" y="504.1" width="4.4" height="4.4" fill="#ab0027"/><rect x="298.7" y="516.67" width="4.4" height="4.4" fill="#ab0027"/><rect x="305.2" y="516.67" width="4.4" height="4.4" fill="#ab0027"/><rect x="302.1" y="517.99" width="4.4" height="4.4" fill="#ab0027"/><rect x="298.7" y="518.44" width="4.4" height="4.4" fill="#ab0027"/><rect x="305.2" y="518.44" width="4.4" height="4.4" fill="#ab0027"/><circle cx="324.9" cy="459.75" r="2.4" fill="#1d3c84"/><circle cx="324.9" cy="477.18" r="2.4" fill="#1d3c84"/><circle cx="324.9" cy="502.1" r="2.4" fill="#1d3c84"/><circle cx="321.1" cy="506.3" r="2.4" fill="#1d3c84"/><circle cx="328.6" cy="507.84" r="2.4" fill="#1d3c84"/><circle cx="324.9" cy="510.27" r="2.4" fill="#1d3c84"/><circle cx="321.1" cy="519.97" r="2.4" fill="#1d3c84"/><circle cx="324.9" cy="519.97" r="2.4" fill="#1d3c84"/><circle cx="328.6" cy="519.97" r="2.4" fill="#1d3c84"/><path d="M345.5 434.88L348.1 439.56L342.9 439.56Z" fill="#5aab32"/><path d="M341.7 476.13L344.3 480.81L339.1 480.81Z" fill="#5aab32"/><path d="M349.2 478.34L351.8 483.02L346.6 483.02Z" fill="#5aab32"/><path d="M341.7 484.52L344.3 489.2L339.1 489.2Z" fill="#5aab32"/><path d="M349.2 487.16L351.8 491.84L346.6 491.84Z" fill="#5aab32"/><path d="M345.5 488.05L348.1 492.73L342.9 492.73Z" fill="#5aab32"/><path d="M341.7 502.83L344.3 507.51L339.1 507.51Z" fill="#5aab32"/><path d="M349.2 507.24L351.8 511.92L346.6 511.92Z" fill="#5aab32"/><path d="M341.7 516.5L344.3 521.18L339.1 521.18Z" fill="#5aab32"/><path d="M349.2 515.62L351.8 520.3L346.6 520.3Z" fill="#5aab32"/><path d="M345.5 517.83L348.1 522.51L342.9 522.51Z" fill="#5aab32"/><path d="M366.1 457.93L368.7 453.25L363.5 453.25Z" fill="#4b1a66"/><path d="M366.1 464.32L368.7 459.64L363.5 459.64Z" fill="#4b1a66"/><path d="M362.3 483.07L364.9 478.39L359.7 478.39Z" fill="#4b1a66"/><path d="M369.8 483.74L372.4 479.06L367.2 479.06Z" fill="#4b1a66"/><path d="M366.1 483.74L368.7 479.06L363.5 479.06Z" fill="#4b1a66"/><path d="M362.3 489.69L364.9 485.01L359.7 485.01Z" fill="#4b1a66"/><path d="M369.8 492.12L372.4 487.44L367.2 487.44Z" fill="#4b1a66"/><path d="M362.3 510.87L364.9 506.19L359.7 506.19Z" fill="#4b1a66"/><path d="M369.8 513.08L372.4 508.39L367.2 508.39Z" fill="#4b1a66"/><path d="M362.3 517.93L364.9 513.25L359.7 513.25Z" fill="#4b1a66"/><path d="M369.8 521.24L372.4 516.56L367.2 516.56Z" fill="#4b1a66"/><path d="M366.1 521.24L368.7 516.56L363.5 516.56Z" fill="#4b1a66"/><path d="M386.7 455.48L389.2 457.98L386.7 460.48L384.2 457.98Z" fill="#e0880f"/><path d="M383.4 473.13L385.9 475.63L383.4 478.13L380.9 475.63Z" fill="#e0880f"/><path d="M390.4 471.15L392.9 473.65L390.4 476.15L387.9 473.65Z" fill="#e0880f"/><path d="M390.4 480.41L392.9 482.91L390.4 485.41L387.9 482.91Z" fill="#e0880f"/><path d="M383.4 484.6L385.9 487.1L383.4 489.6L380.9 487.1Z" fill="#e0880f"/><path d="M386.7 503.8L389.2 506.3L386.7 508.8L384.2 506.3Z" fill="#e0880f"/><path d="M386.7 510.63L389.2 513.13L386.7 515.63L384.2 513.13Z" fill="#e0880f"/><path d="M390.4 514.38L392.9 516.88L390.4 519.38L387.9 516.88Z" fill="#e0880f"/><path d="M383.4 518.36L385.9 520.86L383.4 523.36L380.9 520.86Z" fill="#e0880f"/><path d="M390.4 518.36L392.9 520.86L390.4 523.36L387.9 520.86Z" fill="#e0880f"/><circle cx="407.3" cy="430.63" r="2.1" fill="none" stroke="#2f6e4a" stroke-width="1"/><circle cx="407.3" cy="455.56" r="2.1" fill="none" stroke="#2f6e4a" stroke-width="1"/><circle cx="403.5" cy="478.06" r="2.1" fill="none" stroke="#2f6e4a" stroke-width="1"/><circle cx="411" cy="479.16" r="2.1" fill="none" stroke="#2f6e4a" stroke-width="1"/><circle cx="403.5" cy="497.69" r="2.1" fill="none" stroke="#2f6e4a" stroke-width="1"/><circle cx="411" cy="502.1" r="2.1" fill="none" stroke="#2f6e4a" stroke-width="1"/><circle cx="411" cy="516" r="2.1" fill="none" stroke="#2f6e4a" stroke-width="1"/><circle cx="403.5" cy="519.31" r="2.1" fill="none" stroke="#2f6e4a" stroke-width="1"/><circle cx="407.3" cy="520.86" r="2.1" fill="none" stroke="#2f6e4a" stroke-width="1"/><rect x="422.75" y="463.86" width="3.7" height="3.7" fill="none" stroke="#8c88d0" stroke-width="0.9"/><rect x="429.75" y="469.15" width="3.7" height="3.7" fill="none" stroke="#8c88d0" stroke-width="0.9"/><rect x="431.75" y="492.09" width="3.7" height="3.7" fill="none" stroke="#8c88d0" stroke-width="0.9"/><rect x="429.75" y="500.25" width="3.7" height="3.7" fill="none" stroke="#8c88d0" stroke-width="0.9"/><rect x="422.75" y="505.55" width="3.7" height="3.7" fill="none" stroke="#8c88d0" stroke-width="0.9"/><rect x="422.75" y="511.73" width="3.7" height="3.7" fill="none" stroke="#8c88d0" stroke-width="0.9"/><rect x="429.75" y="510.62" width="3.7" height="3.7" fill="none" stroke="#8c88d0" stroke-width="0.9"/><rect x="422.75" y="517.02" width="3.7" height="3.7" fill="none" stroke="#8c88d0" stroke-width="0.9"/><rect x="429.75" y="517.02" width="3.7" height="3.7" fill="none" stroke="#8c88d0" stroke-width="0.9"/><path d="M448.8 485.23L451.2 489.45L446.4 489.45Z" fill="none" stroke="#3d4863" stroke-width="1" stroke-linejoin="miter"/><path d="M452.3 490.09L454.7 494.31L449.9 494.31Z" fill="none" stroke="#3d4863" stroke-width="1" stroke-linejoin="miter"/><path d="M442.1 492.29L444.5 496.51L439.7 496.51Z" fill="none" stroke="#3d4863" stroke-width="1" stroke-linejoin="miter"/><path d="M445 494.28L447.4 498.5L442.6 498.5Z" fill="none" stroke="#3d4863" stroke-width="1" stroke-linejoin="miter"/><path d="M452.3 500.68L454.7 504.9L449.9 504.9Z" fill="none" stroke="#3d4863" stroke-width="1" stroke-linejoin="miter"/><path d="M455.9 500.9L458.3 505.12L453.5 505.12Z" fill="none" stroke="#3d4863" stroke-width="1" stroke-linejoin="miter"/><path d="M445.6 508.4L448 512.62L443.2 512.62Z" fill="none" stroke="#3d4863" stroke-width="1" stroke-linejoin="miter"/><line x1="304.3" y1="485.12" x2="304.3" y2="522.4" stroke="#1a1a1a" stroke-width="1.1"/><line x1="300.8" y1="485.12" x2="307.8" y2="485.12" stroke="#1a1a1a" stroke-width="1.1"/><line x1="300.8" y1="522.4" x2="307.8" y2="522.4" stroke="#1a1a1a" stroke-width="1.1"/><line x1="297.7" y1="506.3" x2="310.9" y2="506.3" stroke="#1a1a1a" stroke-width="1.3"/><line x1="324.9" y1="489.31" x2="324.9" y2="522.4" stroke="#1a1a1a" stroke-width="1.1"/><line x1="321.4" y1="489.31" x2="328.4" y2="489.31" stroke="#1a1a1a" stroke-width="1.1"/><line x1="321.4" y1="522.4" x2="328.4" y2="522.4" stroke="#1a1a1a" stroke-width="1.1"/><line x1="318.3" y1="508.94" x2="331.5" y2="508.94" stroke="#1a1a1a" stroke-width="1.3"/><line x1="345.5" y1="475.41" x2="345.5" y2="522.4" stroke="#1a1a1a" stroke-width="1.1"/><line x1="342" y1="475.41" x2="349" y2="475.41" stroke="#1a1a1a" stroke-width="1.1"/><line x1="342" y1="522.4" x2="349" y2="522.4" stroke="#1a1a1a" stroke-width="1.1"/><line x1="338.9" y1="500.34" x2="352.1" y2="500.34" stroke="#1a1a1a" stroke-width="1.3"/><line x1="366.1" y1="471.22" x2="366.1" y2="510.71" stroke="#1a1a1a" stroke-width="1.1"/><line x1="362.6" y1="471.22" x2="369.6" y2="471.22" stroke="#1a1a1a" stroke-width="1.1"/><line x1="362.6" y1="510.71" x2="369.6" y2="510.71" stroke="#1a1a1a" stroke-width="1.1"/><line x1="359.5" y1="491.52" x2="372.7" y2="491.52" stroke="#1a1a1a" stroke-width="1.3"/><line x1="386.7" y1="474.09" x2="386.7" y2="518.43" stroke="#1a1a1a" stroke-width="1.1"/><line x1="383.2" y1="474.09" x2="390.2" y2="474.09" stroke="#1a1a1a" stroke-width="1.1"/><line x1="383.2" y1="518.43" x2="390.2" y2="518.43" stroke="#1a1a1a" stroke-width="1.1"/><line x1="380.1" y1="496.37" x2="393.3" y2="496.37" stroke="#1a1a1a" stroke-width="1.3"/><line x1="407.3" y1="462.62" x2="407.3" y2="522.4" stroke="#1a1a1a" stroke-width="1.1"/><line x1="403.8" y1="462.62" x2="410.8" y2="462.62" stroke="#1a1a1a" stroke-width="1.1"/><line x1="403.8" y1="522.4" x2="410.8" y2="522.4" stroke="#1a1a1a" stroke-width="1.1"/><line x1="400.7" y1="492.62" x2="413.9" y2="492.62" stroke="#1a1a1a" stroke-width="1.3"/><line x1="427.9" y1="484.9" x2="427.9" y2="522.4" stroke="#1a1a1a" stroke-width="1.1"/><line x1="424.4" y1="484.9" x2="431.4" y2="484.9" stroke="#1a1a1a" stroke-width="1.1"/><line x1="424.4" y1="522.4" x2="431.4" y2="522.4" stroke="#1a1a1a" stroke-width="1.1"/><line x1="421.3" y1="504.53" x2="434.5" y2="504.53" stroke="#1a1a1a" stroke-width="1.3"/><line x1="448.5" y1="490.41" x2="448.5" y2="506.3" stroke="#1a1a1a" stroke-width="1.1"/><line x1="445" y1="490.41" x2="452" y2="490.41" stroke="#1a1a1a" stroke-width="1.1"/><line x1="445" y1="506.3" x2="452" y2="506.3" stroke="#1a1a1a" stroke-width="1.1"/><line x1="441.9" y1="498.35" x2="455.1" y2="498.35" stroke="#1a1a1a" stroke-width="1.3"/><text x="376.8" y="403.5" font-size="10.5" text-anchor="middle">CD14+ cells</text><text transform="translate(271.3 465.6) rotate(-90)" font-size="10" text-anchor="middle" textLength="35.7" lengthAdjust="spacingAndGlyphs">% live cells</text>
</svg></body></html>
